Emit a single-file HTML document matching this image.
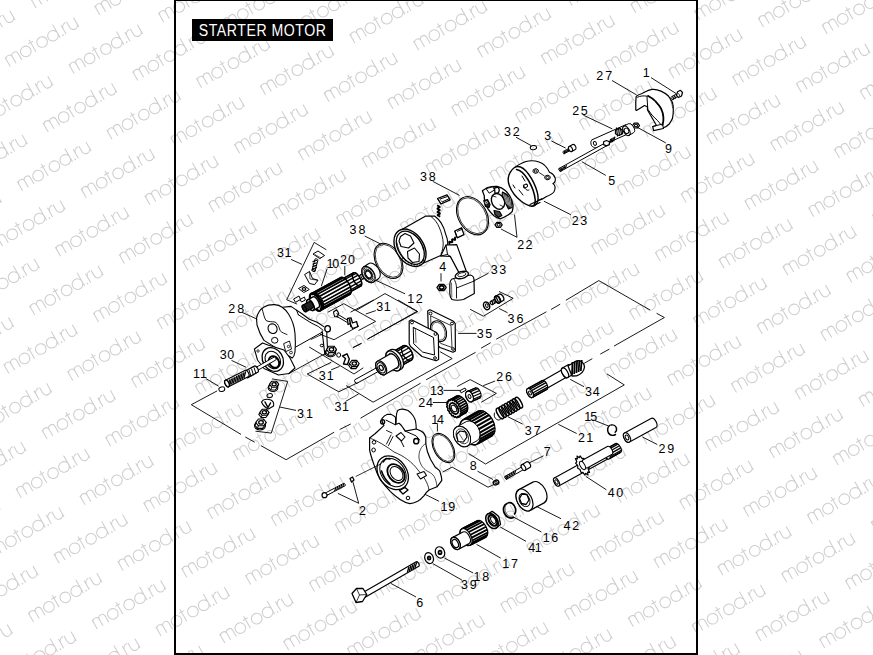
<!DOCTYPE html>
<html><head><meta charset="utf-8"><style>
html,body{margin:0;padding:0;background:#fff;}
svg{display:block;}
text{font-family:"Liberation Sans",sans-serif;}
</style></head><body>
<svg width="873" height="655" viewBox="0 0 873 655">
<rect width="873" height="655" fill="#fff"/>
<defs><g id="wmg"><path d="M0,0 L0,-10.4 M0,-7.15 A3.25,3.25 0 0 1 6.5,-7.15 L6.5,0 M6.5,-7.15 A3.25,3.25 0 0 1 13,-7.15 L13,0 M15.3,-5.2 A5.2,5.2 0 1 0 25.7,-5.2 A5.2,5.2 0 1 0 15.3,-5.2 M29,-13.5 L29,0 M26.3,-10.4 L31.7,-10.4 M33.8,-5.2 A5.2,5.2 0 1 0 44.2,-5.2 A5.2,5.2 0 1 0 33.8,-5.2 M46.1,-5.2 A5.2,5.2 0 1 0 56.5,-5.2 A5.2,5.2 0 1 0 46.1,-5.2 M56.5,-15 L56.5,0 M63.3,0 L63.3,-10.4 M63.3,-5.8 A5,5 0 0 1 68.3,-10.4 M69.6,-10.4 L69.6,-4 A4,4 0 0 0 77.6,-4 L77.6,-10.4 M77.6,-4 L77.6,0" fill="none" stroke="#cfcfcf" stroke-width="1.05"/><circle cx="60.0" cy="-0.7" r="0.85" fill="#cfcfcf"/></g></defs>
<g><use href="#wmg" transform="translate(-27.7 0.9) rotate(-30) scale(1.02)"/><use href="#wmg" transform="translate(-53.5 59.5) rotate(-30) scale(1.02)"/><use href="#wmg" transform="translate(-79.3 118.0) rotate(-30) scale(1.02)"/><use href="#wmg" transform="translate(36.1 7.9) rotate(-30) scale(1.02)"/><use href="#wmg" transform="translate(10.3 66.5) rotate(-30) scale(1.02)"/><use href="#wmg" transform="translate(-15.5 125.1) rotate(-30) scale(1.02)"/><use href="#wmg" transform="translate(-41.2 183.7) rotate(-30) scale(1.02)"/><use href="#wmg" transform="translate(-67.0 242.2) rotate(-30) scale(1.02)"/><use href="#wmg" transform="translate(99.9 15.0) rotate(-30) scale(1.02)"/><use href="#wmg" transform="translate(74.1 73.5) rotate(-30) scale(1.02)"/><use href="#wmg" transform="translate(48.3 132.1) rotate(-30) scale(1.02)"/><use href="#wmg" transform="translate(22.6 190.7) rotate(-30) scale(1.02)"/><use href="#wmg" transform="translate(-3.2 249.3) rotate(-30) scale(1.02)"/><use href="#wmg" transform="translate(-29.0 307.9) rotate(-30) scale(1.02)"/><use href="#wmg" transform="translate(-54.8 366.4) rotate(-30) scale(1.02)"/><use href="#wmg" transform="translate(-80.5 425.0) rotate(-30) scale(1.02)"/><use href="#wmg" transform="translate(163.7 22.0) rotate(-30) scale(1.02)"/><use href="#wmg" transform="translate(137.9 80.6) rotate(-30) scale(1.02)"/><use href="#wmg" transform="translate(112.1 139.2) rotate(-30) scale(1.02)"/><use href="#wmg" transform="translate(86.3 197.8) rotate(-30) scale(1.02)"/><use href="#wmg" transform="translate(60.6 256.3) rotate(-30) scale(1.02)"/><use href="#wmg" transform="translate(34.8 314.9) rotate(-30) scale(1.02)"/><use href="#wmg" transform="translate(9.0 373.5) rotate(-30) scale(1.02)"/><use href="#wmg" transform="translate(-16.7 432.1) rotate(-30) scale(1.02)"/><use href="#wmg" transform="translate(-42.5 490.7) rotate(-30) scale(1.02)"/><use href="#wmg" transform="translate(-68.3 549.2) rotate(-30) scale(1.02)"/><use href="#wmg" transform="translate(227.4 29.1) rotate(-30) scale(1.02)"/><use href="#wmg" transform="translate(201.7 87.7) rotate(-30) scale(1.02)"/><use href="#wmg" transform="translate(175.9 146.2) rotate(-30) scale(1.02)"/><use href="#wmg" transform="translate(150.1 204.8) rotate(-30) scale(1.02)"/><use href="#wmg" transform="translate(124.4 263.4) rotate(-30) scale(1.02)"/><use href="#wmg" transform="translate(98.6 322.0) rotate(-30) scale(1.02)"/><use href="#wmg" transform="translate(72.8 380.5) rotate(-30) scale(1.02)"/><use href="#wmg" transform="translate(47.1 439.1) rotate(-30) scale(1.02)"/><use href="#wmg" transform="translate(21.3 497.7) rotate(-30) scale(1.02)"/><use href="#wmg" transform="translate(-4.5 556.3) rotate(-30) scale(1.02)"/><use href="#wmg" transform="translate(-30.3 614.9) rotate(-30) scale(1.02)"/><use href="#wmg" transform="translate(-56.0 673.4) rotate(-30) scale(1.02)"/><use href="#wmg" transform="translate(291.2 36.1) rotate(-30) scale(1.02)"/><use href="#wmg" transform="translate(265.5 94.7) rotate(-30) scale(1.02)"/><use href="#wmg" transform="translate(239.7 153.3) rotate(-30) scale(1.02)"/><use href="#wmg" transform="translate(213.9 211.9) rotate(-30) scale(1.02)"/><use href="#wmg" transform="translate(188.1 270.4) rotate(-30) scale(1.02)"/><use href="#wmg" transform="translate(162.4 329.0) rotate(-30) scale(1.02)"/><use href="#wmg" transform="translate(136.6 387.6) rotate(-30) scale(1.02)"/><use href="#wmg" transform="translate(110.8 446.2) rotate(-30) scale(1.02)"/><use href="#wmg" transform="translate(85.1 504.8) rotate(-30) scale(1.02)"/><use href="#wmg" transform="translate(59.3 563.3) rotate(-30) scale(1.02)"/><use href="#wmg" transform="translate(33.5 621.9) rotate(-30) scale(1.02)"/><use href="#wmg" transform="translate(7.8 680.5) rotate(-30) scale(1.02)"/><use href="#wmg" transform="translate(355.0 43.2) rotate(-30) scale(1.02)"/><use href="#wmg" transform="translate(329.2 101.8) rotate(-30) scale(1.02)"/><use href="#wmg" transform="translate(303.5 160.3) rotate(-30) scale(1.02)"/><use href="#wmg" transform="translate(277.7 218.9) rotate(-30) scale(1.02)"/><use href="#wmg" transform="translate(251.9 277.5) rotate(-30) scale(1.02)"/><use href="#wmg" transform="translate(226.2 336.1) rotate(-30) scale(1.02)"/><use href="#wmg" transform="translate(200.4 394.6) rotate(-30) scale(1.02)"/><use href="#wmg" transform="translate(174.6 453.2) rotate(-30) scale(1.02)"/><use href="#wmg" transform="translate(148.9 511.8) rotate(-30) scale(1.02)"/><use href="#wmg" transform="translate(123.1 570.4) rotate(-30) scale(1.02)"/><use href="#wmg" transform="translate(97.3 629.0) rotate(-30) scale(1.02)"/><use href="#wmg" transform="translate(71.6 687.5) rotate(-30) scale(1.02)"/><use href="#wmg" transform="translate(444.6 -8.4) rotate(-30) scale(1.02)"/><use href="#wmg" transform="translate(418.8 50.2) rotate(-30) scale(1.02)"/><use href="#wmg" transform="translate(393.0 108.8) rotate(-30) scale(1.02)"/><use href="#wmg" transform="translate(367.3 167.4) rotate(-30) scale(1.02)"/><use href="#wmg" transform="translate(341.5 226.0) rotate(-30) scale(1.02)"/><use href="#wmg" transform="translate(315.7 284.5) rotate(-30) scale(1.02)"/><use href="#wmg" transform="translate(290.0 343.1) rotate(-30) scale(1.02)"/><use href="#wmg" transform="translate(264.2 401.7) rotate(-30) scale(1.02)"/><use href="#wmg" transform="translate(238.4 460.3) rotate(-30) scale(1.02)"/><use href="#wmg" transform="translate(212.7 518.9) rotate(-30) scale(1.02)"/><use href="#wmg" transform="translate(186.9 577.4) rotate(-30) scale(1.02)"/><use href="#wmg" transform="translate(161.1 636.0) rotate(-30) scale(1.02)"/><use href="#wmg" transform="translate(135.3 694.6) rotate(-30) scale(1.02)"/><use href="#wmg" transform="translate(508.4 -1.3) rotate(-30) scale(1.02)"/><use href="#wmg" transform="translate(482.6 57.3) rotate(-30) scale(1.02)"/><use href="#wmg" transform="translate(456.8 115.8) rotate(-30) scale(1.02)"/><use href="#wmg" transform="translate(431.1 174.4) rotate(-30) scale(1.02)"/><use href="#wmg" transform="translate(405.3 233.0) rotate(-30) scale(1.02)"/><use href="#wmg" transform="translate(379.5 291.6) rotate(-30) scale(1.02)"/><use href="#wmg" transform="translate(353.8 350.2) rotate(-30) scale(1.02)"/><use href="#wmg" transform="translate(328.0 408.8) rotate(-30) scale(1.02)"/><use href="#wmg" transform="translate(302.2 467.3) rotate(-30) scale(1.02)"/><use href="#wmg" transform="translate(276.4 525.9) rotate(-30) scale(1.02)"/><use href="#wmg" transform="translate(250.7 584.5) rotate(-30) scale(1.02)"/><use href="#wmg" transform="translate(224.9 643.1) rotate(-30) scale(1.02)"/><use href="#wmg" transform="translate(199.1 701.6) rotate(-30) scale(1.02)"/><use href="#wmg" transform="translate(572.2 5.7) rotate(-30) scale(1.02)"/><use href="#wmg" transform="translate(546.4 64.3) rotate(-30) scale(1.02)"/><use href="#wmg" transform="translate(520.6 122.9) rotate(-30) scale(1.02)"/><use href="#wmg" transform="translate(494.9 181.5) rotate(-30) scale(1.02)"/><use href="#wmg" transform="translate(469.1 240.1) rotate(-30) scale(1.02)"/><use href="#wmg" transform="translate(443.3 298.6) rotate(-30) scale(1.02)"/><use href="#wmg" transform="translate(417.5 357.2) rotate(-30) scale(1.02)"/><use href="#wmg" transform="translate(391.8 415.8) rotate(-30) scale(1.02)"/><use href="#wmg" transform="translate(366.0 474.4) rotate(-30) scale(1.02)"/><use href="#wmg" transform="translate(340.2 533.0) rotate(-30) scale(1.02)"/><use href="#wmg" transform="translate(314.5 591.5) rotate(-30) scale(1.02)"/><use href="#wmg" transform="translate(288.7 650.1) rotate(-30) scale(1.02)"/><use href="#wmg" transform="translate(262.9 708.7) rotate(-30) scale(1.02)"/><use href="#wmg" transform="translate(635.9 12.8) rotate(-30) scale(1.02)"/><use href="#wmg" transform="translate(610.2 71.4) rotate(-30) scale(1.02)"/><use href="#wmg" transform="translate(584.4 129.9) rotate(-30) scale(1.02)"/><use href="#wmg" transform="translate(558.6 188.5) rotate(-30) scale(1.02)"/><use href="#wmg" transform="translate(532.9 247.1) rotate(-30) scale(1.02)"/><use href="#wmg" transform="translate(507.1 305.7) rotate(-30) scale(1.02)"/><use href="#wmg" transform="translate(481.3 364.3) rotate(-30) scale(1.02)"/><use href="#wmg" transform="translate(455.6 422.8) rotate(-30) scale(1.02)"/><use href="#wmg" transform="translate(429.8 481.4) rotate(-30) scale(1.02)"/><use href="#wmg" transform="translate(404.0 540.0) rotate(-30) scale(1.02)"/><use href="#wmg" transform="translate(378.2 598.6) rotate(-30) scale(1.02)"/><use href="#wmg" transform="translate(352.5 657.2) rotate(-30) scale(1.02)"/><use href="#wmg" transform="translate(699.7 19.8) rotate(-30) scale(1.02)"/><use href="#wmg" transform="translate(674.0 78.4) rotate(-30) scale(1.02)"/><use href="#wmg" transform="translate(648.2 137.0) rotate(-30) scale(1.02)"/><use href="#wmg" transform="translate(622.4 195.6) rotate(-30) scale(1.02)"/><use href="#wmg" transform="translate(596.7 254.2) rotate(-30) scale(1.02)"/><use href="#wmg" transform="translate(570.9 312.7) rotate(-30) scale(1.02)"/><use href="#wmg" transform="translate(545.1 371.3) rotate(-30) scale(1.02)"/><use href="#wmg" transform="translate(519.3 429.9) rotate(-30) scale(1.02)"/><use href="#wmg" transform="translate(493.6 488.5) rotate(-30) scale(1.02)"/><use href="#wmg" transform="translate(467.8 547.1) rotate(-30) scale(1.02)"/><use href="#wmg" transform="translate(442.0 605.6) rotate(-30) scale(1.02)"/><use href="#wmg" transform="translate(416.3 664.2) rotate(-30) scale(1.02)"/><use href="#wmg" transform="translate(763.5 26.9) rotate(-30) scale(1.02)"/><use href="#wmg" transform="translate(737.8 85.5) rotate(-30) scale(1.02)"/><use href="#wmg" transform="translate(712.0 144.1) rotate(-30) scale(1.02)"/><use href="#wmg" transform="translate(686.2 202.6) rotate(-30) scale(1.02)"/><use href="#wmg" transform="translate(660.4 261.2) rotate(-30) scale(1.02)"/><use href="#wmg" transform="translate(634.7 319.8) rotate(-30) scale(1.02)"/><use href="#wmg" transform="translate(608.9 378.4) rotate(-30) scale(1.02)"/><use href="#wmg" transform="translate(583.1 436.9) rotate(-30) scale(1.02)"/><use href="#wmg" transform="translate(557.4 495.5) rotate(-30) scale(1.02)"/><use href="#wmg" transform="translate(531.6 554.1) rotate(-30) scale(1.02)"/><use href="#wmg" transform="translate(505.8 612.7) rotate(-30) scale(1.02)"/><use href="#wmg" transform="translate(480.1 671.3) rotate(-30) scale(1.02)"/><use href="#wmg" transform="translate(827.3 33.9) rotate(-30) scale(1.02)"/><use href="#wmg" transform="translate(801.5 92.5) rotate(-30) scale(1.02)"/><use href="#wmg" transform="translate(775.8 151.1) rotate(-30) scale(1.02)"/><use href="#wmg" transform="translate(750.0 209.7) rotate(-30) scale(1.02)"/><use href="#wmg" transform="translate(724.2 268.3) rotate(-30) scale(1.02)"/><use href="#wmg" transform="translate(698.5 326.8) rotate(-30) scale(1.02)"/><use href="#wmg" transform="translate(672.7 385.4) rotate(-30) scale(1.02)"/><use href="#wmg" transform="translate(646.9 444.0) rotate(-30) scale(1.02)"/><use href="#wmg" transform="translate(621.2 502.6) rotate(-30) scale(1.02)"/><use href="#wmg" transform="translate(595.4 561.2) rotate(-30) scale(1.02)"/><use href="#wmg" transform="translate(569.6 619.7) rotate(-30) scale(1.02)"/><use href="#wmg" transform="translate(543.8 678.3) rotate(-30) scale(1.02)"/><use href="#wmg" transform="translate(865.3 99.6) rotate(-30) scale(1.02)"/><use href="#wmg" transform="translate(839.6 158.1) rotate(-30) scale(1.02)"/><use href="#wmg" transform="translate(813.8 216.7) rotate(-30) scale(1.02)"/><use href="#wmg" transform="translate(788.0 275.3) rotate(-30) scale(1.02)"/><use href="#wmg" transform="translate(762.3 333.9) rotate(-30) scale(1.02)"/><use href="#wmg" transform="translate(736.5 392.5) rotate(-30) scale(1.02)"/><use href="#wmg" transform="translate(710.7 451.0) rotate(-30) scale(1.02)"/><use href="#wmg" transform="translate(684.9 509.6) rotate(-30) scale(1.02)"/><use href="#wmg" transform="translate(659.2 568.2) rotate(-30) scale(1.02)"/><use href="#wmg" transform="translate(633.4 626.8) rotate(-30) scale(1.02)"/><use href="#wmg" transform="translate(607.6 685.4) rotate(-30) scale(1.02)"/><use href="#wmg" transform="translate(877.6 223.8) rotate(-30) scale(1.02)"/><use href="#wmg" transform="translate(851.8 282.4) rotate(-30) scale(1.02)"/><use href="#wmg" transform="translate(826.0 340.9) rotate(-30) scale(1.02)"/><use href="#wmg" transform="translate(800.3 399.5) rotate(-30) scale(1.02)"/><use href="#wmg" transform="translate(774.5 458.1) rotate(-30) scale(1.02)"/><use href="#wmg" transform="translate(748.7 516.7) rotate(-30) scale(1.02)"/><use href="#wmg" transform="translate(723.0 575.3) rotate(-30) scale(1.02)"/><use href="#wmg" transform="translate(697.2 633.8) rotate(-30) scale(1.02)"/><use href="#wmg" transform="translate(671.4 692.4) rotate(-30) scale(1.02)"/><use href="#wmg" transform="translate(864.1 406.6) rotate(-30) scale(1.02)"/><use href="#wmg" transform="translate(838.3 465.1) rotate(-30) scale(1.02)"/><use href="#wmg" transform="translate(812.5 523.7) rotate(-30) scale(1.02)"/><use href="#wmg" transform="translate(786.8 582.3) rotate(-30) scale(1.02)"/><use href="#wmg" transform="translate(761.0 640.9) rotate(-30) scale(1.02)"/><use href="#wmg" transform="translate(735.2 699.5) rotate(-30) scale(1.02)"/><use href="#wmg" transform="translate(876.3 530.8) rotate(-30) scale(1.02)"/><use href="#wmg" transform="translate(850.6 589.4) rotate(-30) scale(1.02)"/><use href="#wmg" transform="translate(824.8 647.9) rotate(-30) scale(1.02)"/><use href="#wmg" transform="translate(799.0 706.5) rotate(-30) scale(1.02)"/><use href="#wmg" transform="translate(862.8 713.6) rotate(-30) scale(1.02)"/></g>
<rect x="175" y="0" width="522" height="654" fill="none" stroke="#000" stroke-width="2"/>
<rect x="192" y="19" width="141" height="22" fill="#000"/>
<text transform="translate(198.8 36.0) scale(0.905 1)" x="0" y="0" font-size="15.6" fill="#fff" letter-spacing="0.6">STARTER MOTOR</text>
<g id="parts1">
<path d="M672.8,99.5 L677.8,96.6 A1.5,0.8 59.9 0 0 676.2,94.0 L671.2,96.9 A1.5,0.8 59.9 0 0 672.8,99.5 Z" stroke="#000" stroke-width="0.9" fill="#fff" stroke-linejoin="round" stroke-linecap="round"/>
<line x1="672.6" y1="96.3" x2="673.8" y2="99.4" stroke="#000" stroke-width="1.3" />
<line x1="674.4" y1="95.3" x2="675.6" y2="98.4" stroke="#000" stroke-width="1.3" />
<path d="M676.5,95.5 L677.5,91.8 L680.5,90.3 L682.5,92.5 L681.5,96 L678.5,97.5 Z" stroke="#000" stroke-width="1.2" fill="#fff" stroke-linejoin="round" stroke-linecap="round"/>
<line x1="678.5" y1="93.2" x2="680.0" y2="96.5" stroke="#000" stroke-width="0.8" />
<path d="M636.2,96.4 C638,95 640,94.2 642,93.5 C645,92 648.5,90 651.9,89.4 C655,89 658,89.8 661,91.1 C664,92.5 666.5,94 668.4,96 C670,98 671.5,100.5 672.5,102.6 C673.2,105 673.5,107.5 673.3,110 C673.3,113 673,116 672.5,118.3 C671.5,120.5 670.5,122.5 669.2,124 C667.5,125.8 665.5,127 663.4,127.8 L663.4,128.5 L653.6,130.6 L652.7,126.5 L656.5,125.5 L647.5,110 L647.4,106.7 L644.5,105.5 L636.5,110.4 L635.8,110 C635.6,105 635.7,100 636.2,96.4 Z" stroke="#000" stroke-width="1.2" fill="#fff" stroke-linejoin="round" stroke-linecap="round"/>
<path d="M637.5,97.2 C640,96 643.5,95.5 647,96.2 L648.2,96" stroke="#000" stroke-width="1.0" fill="none" stroke-linejoin="round" stroke-linecap="round"/>
<path d="M648.2,96 C651,97.5 653.5,99 655.2,101 C657.5,103.5 659.5,105.5 661,108.4 C662.5,111.5 663.2,114.5 663.4,117.4 C663.6,120 663.2,122.5 662.6,124.9" stroke="#000" stroke-width="1.8" fill="none" stroke-linejoin="round" stroke-linecap="round"/>
<path d="M647,96.8 C647.3,101 647.5,105 647.8,109.2 C649,111 650.5,113 651.9,115 C654,117 655.8,119 657.7,120.7 C659,122 660,123.5 661,124.9" stroke="#000" stroke-width="1.0" fill="none" stroke-linejoin="round" stroke-linecap="round"/>
<path d="M652.7,126.5 L662.6,124 L663.4,128.2" stroke="#000" stroke-width="1.0" fill="none" stroke-linejoin="round" stroke-linecap="round"/>
<path d="M668.4,96 C670.5,99 672,103 672.7,108" stroke="#000" stroke-width="0.6" fill="none" stroke-linejoin="round" stroke-linecap="round"/>
<path d="M639.5,125.6 L637.8,128.0 L634.2,128.0 L632.5,125.6 L634.2,123.2 L637.8,123.2 Z" stroke="#000" stroke-width="1.2" fill="#fff" stroke-linejoin="round"/>
<ellipse cx="636.0" cy="125.6" rx="1.6" ry="1.3" transform="rotate(0 636.0 125.6)" stroke="#000" stroke-width="1.08" fill="none"/>
<path d="M592.2,139.7 L626,124.6 L630,133 L598,147.2 C594.5,148.6 591.5,146.8 591,144.2 C590.6,142 591,140.4 592.2,139.7 Z" stroke="#000" stroke-width="1.0" fill="#fff" stroke-linejoin="round" stroke-linecap="round"/>
<ellipse cx="594.9" cy="143.4" rx="1.5" ry="2.0" transform="rotate(-20 594.9 143.4)" stroke="#000" stroke-width="1.0" fill="none"/>
<path d="M622.6,130.3 L622.6,133.7 L619.0,135.4 L615.4,133.7 L615.4,130.3 L619.0,128.6 Z" stroke="#000" stroke-width="1.1" fill="#fff" stroke-linejoin="round"/>
<line x1="616.5" y1="127.5" x2="617.5" y2="136.5" stroke="#000" stroke-width="1.2" />
<line x1="618.5" y1="127.7" x2="619.5" y2="135.7" stroke="#000" stroke-width="1.2" />
<line x1="620.5" y1="127.9" x2="621.5" y2="134.9" stroke="#000" stroke-width="1.2" />
<path d="M629.1,135.3 L633.6,132.7 A5.2,2.9 60.0 0 0 628.4,123.7 L623.9,126.3 A5.2,2.9 60.0 0 0 629.1,135.3 Z" stroke="#000" stroke-width="1.0" fill="#fff" stroke-linejoin="round" stroke-linecap="round"/>
<ellipse cx="626.5" cy="130.8" rx="5.2" ry="2.9" transform="rotate(59.9816325723907 626.5 130.8)" stroke="#000" stroke-width="1.0" fill="#fff"/>
<ellipse cx="626.5" cy="130.8" rx="2.2" ry="2.8" transform="rotate(-30 626.5 130.8)" stroke="#000" stroke-width="1.0" fill="none"/>
<path d="M560.8,171.2 L606.8,145.7 A1.6,0.8 61.0 0 0 605.2,142.9 L559.2,168.4 A1.6,0.8 61.0 0 0 560.8,171.2 Z" stroke="#000" stroke-width="1.0" fill="#fff" stroke-linejoin="round" stroke-linecap="round"/>
<ellipse cx="560.0" cy="169.8" rx="1.6" ry="0.8" transform="rotate(60.99830057611189 560.0 169.8)" stroke="#000" stroke-width="1.0" fill="#fff"/>
<line x1="562.0" y1="167.6" x2="560.8" y2="171.0" stroke="#000" stroke-width="1.1" />
<line x1="563.5" y1="166.8" x2="562.3" y2="170.2" stroke="#000" stroke-width="1.1" />
<line x1="565.0" y1="166.0" x2="563.8" y2="169.3" stroke="#000" stroke-width="1.1" />
<line x1="566.5" y1="165.1" x2="565.3" y2="168.5" stroke="#000" stroke-width="1.1" />
<path d="M609.4,141.8 L609.4,144.6 L606.5,145.9 L603.6,144.6 L603.6,141.8 L606.5,140.5 Z" stroke="#000" stroke-width="1.2" fill="#fff" stroke-linejoin="round"/>
<line x1="610.7" y1="138.9" x2="609.4" y2="143.7" stroke="#000" stroke-width="1.3" />
<line x1="612.1" y1="138.1" x2="610.8" y2="142.9" stroke="#000" stroke-width="1.3" />
<line x1="613.5" y1="137.4" x2="612.2" y2="142.2" stroke="#000" stroke-width="1.3" />
<line x1="614.9" y1="136.6" x2="613.6" y2="141.4" stroke="#000" stroke-width="1.3" />
<ellipse cx="533.4" cy="147.6" rx="3.2" ry="2.1" transform="rotate(-10 533.4 147.6)" stroke="#000" stroke-width="1" fill="none"/>
<path d="M564.2,153.7 L570.6,150.3 A1.3,0.7 62.0 0 0 569.4,148.1 L563.0,151.5 A1.3,0.7 62.0 0 0 564.2,153.7 Z" stroke="#000" stroke-width="0.9" fill="#fff" stroke-linejoin="round" stroke-linecap="round"/>
<line x1="564.9" y1="151.0" x2="563.9" y2="153.8" stroke="#000" stroke-width="1.2" />
<line x1="566.3" y1="150.2" x2="565.3" y2="153.0" stroke="#000" stroke-width="1.2" />
<line x1="567.7" y1="149.5" x2="566.7" y2="152.3" stroke="#000" stroke-width="1.2" />
<line x1="569.1" y1="148.7" x2="568.1" y2="151.5" stroke="#000" stroke-width="1.2" />
<path d="M571.8,151.4 L575.3,149.5 A2.8,1.7 61.5 0 0 572.7,144.5 L569.2,146.4 A2.8,1.7 61.5 0 0 571.8,151.4 Z" stroke="#000" stroke-width="1.1" fill="#fff" stroke-linejoin="round" stroke-linecap="round"/>
<ellipse cx="570.5" cy="148.9" rx="2.8" ry="1.7" transform="rotate(61.504361381754954 570.5 148.9)" stroke="#000" stroke-width="1.1" fill="#fff"/>
</g>
<g id="parts2">
<path d="M514.5,167.6 C517,165.5 521,163.5 526,161.5 C530,160.3 535,160.6 539.1,161.9 C543,163.2 547,166.5 549.5,172.2 C551.5,173.2 554,174 555.2,178 C555.8,181 554.5,182.8 552.9,183.6 C555,185 555.8,188 554,191.7 C552.5,194 549,195.5 546.5,196.5 C544,198.5 541,199.9 538,200.2 L530,206 Z" stroke="#000" stroke-width="1.1" fill="#fff" stroke-linejoin="round" stroke-linecap="round"/>
<path d="M508.8,175.6 C510.5,171 512.5,168 516,166.8 C519.5,165.8 524.5,168.5 528.8,174.5 C532.5,179.5 535.5,186 537.2,192 C538.8,198 538.5,203 534.6,205.6 C531.5,207 527,205.5 521.5,201.5 C516,197.3 511.5,191.5 509.3,185.5 C507.9,181.8 507.9,178.5 508.8,175.6 Z" stroke="#000" stroke-width="1.4" fill="#fff" stroke-linejoin="round" stroke-linecap="round"/>
<path d="M516.5,169.5 C520.5,170 525,174.5 528.5,180.5 C532,186.5 534.5,193 535.2,199.5 C535.5,202 535,204 534.2,205" stroke="#000" stroke-width="1.5" fill="none" stroke-linejoin="round" stroke-linecap="round"/>
<path d="M522,176 L525,181 M523.5,185 C525,189.5 527,191 529,190 M519,190 L523,195 M513,185 L515,188" stroke="#000" stroke-width="1.0" fill="none" stroke-linejoin="round" stroke-linecap="round"/>
<ellipse cx="525.5" cy="186.0" rx="2.2" ry="1.6" transform="rotate(-30 525.5 186.0)" stroke="#000" stroke-width="1.1" fill="none"/>
<path d="M538.5,170.2 L538.0,172.5 L535.2,173.4 L532.9,171.8 L533.4,169.5 L536.2,168.6 Z" stroke="#000" stroke-width="1.0" fill="#fff" stroke-linejoin="round"/>
<ellipse cx="535.7" cy="171.0" rx="1.4" ry="1.1" transform="rotate(0 535.7 171.0)" stroke="#000" stroke-width="0.9" fill="none"/>
<path d="M550.3,176.7 L549.8,179.0 L547.0,179.9 L544.7,178.3 L545.2,176.0 L548.0,175.1 Z" stroke="#000" stroke-width="1.0" fill="#fff" stroke-linejoin="round"/>
<ellipse cx="547.5" cy="177.5" rx="1.4" ry="1.1" transform="rotate(0 547.5 177.5)" stroke="#000" stroke-width="0.9" fill="none"/>
<line x1="539.0" y1="172.5" x2="544.5" y2="176.0" stroke="#000" stroke-width="0.8" />
<path d="M530,204.5 L538.5,200.5 L541.5,199 M531.5,206.5 L540,202.5" stroke="#000" stroke-width="1.2" fill="none" stroke-linejoin="round" stroke-linecap="round"/>
<path d="M482.4,190.7 L487.5,187.5 C491,186.5 494,186.2 497,186.3 C500,187 503,188.5 505,190.3 C507,192 508.5,194 509.7,195.9 C511.5,199 512.5,202 512.9,204.6 C513.2,207 512.9,209.5 512.1,211.7 C511,213 509.5,214 508.2,214.9 C505.5,216.5 503,218 500.2,218.9 C497.5,218 495.5,217 493.9,215.7 C491.5,213.5 489.7,211.5 488.3,209.4 C486.8,207 485.8,205 485.1,203 C484.5,200.5 484.2,198 484.3,195.9 Z" stroke="#000" stroke-width="1.3" fill="#fff" stroke-linejoin="round" stroke-linecap="round"/>
<path d="M502.5,192 L507,194.5 L511,201 L512,207.5 L508.5,209 L505.5,203 L502,197.5 Z" stroke="#000" stroke-width="1.2" fill="#333" stroke-linejoin="round" stroke-linecap="round"/>
<line x1="503.0" y1="193.5" x2="506.5" y2="204.0" stroke="#fff" stroke-width="0.5" />
<line x1="504.8" y1="194.7" x2="507.7" y2="204.8" stroke="#fff" stroke-width="0.5" />
<line x1="506.6" y1="195.9" x2="508.9" y2="205.6" stroke="#fff" stroke-width="0.5" />
<line x1="508.4" y1="197.1" x2="510.1" y2="206.4" stroke="#fff" stroke-width="0.5" />
<line x1="510.2" y1="198.3" x2="511.3" y2="207.2" stroke="#fff" stroke-width="0.5" />
<path d="M483.8,200.5 L487.5,199.5 L490,204.5 L489,207.5 L485.5,206.5 Z" stroke="#000" stroke-width="1.2" fill="#222" stroke-linejoin="round" stroke-linecap="round"/>
<ellipse cx="486.3" cy="202.6" rx="1.1" ry="1.0" transform="rotate(0 486.3 202.6)" stroke="#fff" stroke-width="0.8" fill="none"/>
<path d="M494,210.5 L499.5,211.5 L501.8,215.5 L498.5,217.5 L495,214.5 Z" stroke="#000" stroke-width="1.2" fill="#444" stroke-linejoin="round" stroke-linecap="round"/>
<path d="M486.5,188.5 L493,186.8 L494.5,190 L489.5,193 Z" stroke="#000" stroke-width="1.0" fill="#fff" stroke-linejoin="round" stroke-linecap="round"/>
<path d="M494.5,188 L498,187.2 C499.5,189 499.5,191 498.5,192.5 L495,193.5 Z" stroke="#000" stroke-width="1.3" fill="#fff" stroke-linejoin="round" stroke-linecap="round"/>
<ellipse cx="498.0" cy="201.4" rx="6.2" ry="8.2" transform="rotate(-28 498.0 201.4)" stroke="#000" stroke-width="1.4" fill="#fff"/>
<path d="M493,196 L496,197 M500,205 L503,206.5" stroke="#000" stroke-width="0.8" fill="none" stroke-linejoin="round" stroke-linecap="round"/>
<path d="M502.2,224.8 L500.4,227.3 L496.8,227.3 L495.0,224.8 L496.8,222.3 L500.4,222.3 Z" stroke="#000" stroke-width="1.2" fill="#fff" stroke-linejoin="round"/>
<ellipse cx="498.6" cy="224.8" rx="1.6" ry="1.4" transform="rotate(0 498.6 224.8)" stroke="#000" stroke-width="1.08" fill="none"/>
<ellipse cx="472.5" cy="215.7" rx="20.5" ry="14.2" transform="rotate(60 472.5 215.7)" stroke="#000" stroke-width="1.1" fill="none"/>
<ellipse cx="472.5" cy="215.7" rx="19.3" ry="13.0" transform="rotate(60 472.5 215.7)" stroke="#000" stroke-width="0.7" fill="none"/>
<ellipse cx="388.5" cy="260.9" rx="18.9" ry="12.6" transform="rotate(60 388.5 260.9)" stroke="#000" stroke-width="1.1" fill="none"/>
<ellipse cx="388.5" cy="260.9" rx="17.7" ry="11.4" transform="rotate(60 388.5 260.9)" stroke="#000" stroke-width="0.7" fill="none"/>
</g>
<g id="parts3">
<path d="M402.8,229.1 L425.3,216.2 L434.9,216.2 C437.5,218 439.5,220.5 441.3,223.2 C443.3,226.5 444.8,230 445.6,233.9 C446.8,237 447.6,240 447.8,242.4 C447.8,245.5 447,248.5 445.6,251 C444.2,253 442.8,254.5 441.3,255.3 L416.7,266 Z" stroke="#000" stroke-width="1.2" fill="#fff" stroke-linejoin="round" stroke-linecap="round"/>
<path d="M431,216.5 C434.5,219 437.5,223 439.5,228 C441.5,233 443,238 443.2,243 C443.3,247 442.5,251 441,254" stroke="#000" stroke-width="0.9" fill="none" stroke-linejoin="round" stroke-linecap="round"/>
<ellipse cx="410.0" cy="247.8" rx="20.4" ry="13.8" transform="rotate(57 410.0 247.8)" stroke="#000" stroke-width="1.4" fill="#fff"/>
<ellipse cx="410.3" cy="247.8" rx="18.2" ry="11.8" transform="rotate(57 410.3 247.8)" stroke="#000" stroke-width="1.3" fill="#fff"/>
<line x1="423.7" y1="260.6" x2="422.7" y2="259.7" stroke="#000" stroke-width="1.2" />
<line x1="422.1" y1="262.9" x2="421.2" y2="261.7" stroke="#000" stroke-width="1.2" />
<line x1="419.9" y1="264.4" x2="419.3" y2="263.1" stroke="#000" stroke-width="1.2" />
<line x1="417.3" y1="265.3" x2="417.0" y2="263.9" stroke="#000" stroke-width="1.2" />
<line x1="414.4" y1="265.4" x2="414.4" y2="263.9" stroke="#000" stroke-width="1.2" />
<line x1="411.3" y1="264.7" x2="411.6" y2="263.2" stroke="#000" stroke-width="1.2" />
<line x1="408.2" y1="263.3" x2="408.7" y2="261.9" stroke="#000" stroke-width="1.2" />
<line x1="405.1" y1="261.2" x2="406.0" y2="259.9" stroke="#000" stroke-width="1.2" />
<line x1="402.3" y1="258.5" x2="403.4" y2="257.4" stroke="#000" stroke-width="1.2" />
<path d="M400.5,236.5 L405.0,233.5 L410.5,236.0 L414.0,243.0 L408.5,248.0 L401.0,246.5 L399.0,241.0 Z" stroke="#000" stroke-width="1.1" fill="none" stroke-linejoin="round"/>
<path d="M407.5,251.5 L414.5,248.0 L419.5,254.0 L419.0,261.5 L412.5,262.5 L408.0,258.0 Z" stroke="#000" stroke-width="1.1" fill="none" stroke-linejoin="round"/>
<path d="M397,243 C398,250 402,257 408,262 M414.5,234 C419,238 422,244 423.5,250" stroke="#000" stroke-width="0.8" fill="none" stroke-linejoin="round" stroke-linecap="round"/>
<path d="M437.5,198.5 L447,194.8 L450.2,199.8 L441,204 Z" stroke="#000" stroke-width="1.3" fill="#fff" stroke-linejoin="round" stroke-linecap="round"/>
<line x1="440.0" y1="199.0" x2="447.5" y2="196.5" stroke="#000" stroke-width="1.0" />
<line x1="442.0" y1="202.0" x2="449.0" y2="198.8" stroke="#000" stroke-width="1.0" />
<line x1="437.5" y1="198.5" x2="441.0" y2="204.0" stroke="#000" stroke-width="1.0" />
<line x1="439.0" y1="197.5" x2="442.5" y2="202.8" stroke="#000" stroke-width="0.5" />
<path d="M437.1,205.6 L440.0,207.2 L437.2,208.9 L440.0,210.5 L437.3,212.2 L440.1,213.8 L437.4,215.5 L440.2,217.0" stroke="#000" stroke-width="1.4" fill="none" stroke-linejoin="round"/>
<path d="M437.1,204.9 L439.9,206.4 L437.2,208.2 L440.0,209.7 L437.3,211.4 L440.1,213.0 L437.4,214.7 L440.2,216.3" stroke="#000" stroke-width="1.1199999999999999" fill="none" stroke-linejoin="round"/>
<path d="M454.8,231 L461.5,227.8 L464,234.6 L457.2,237.8 Z" stroke="#000" stroke-width="1.3" fill="#fff" stroke-linejoin="round" stroke-linecap="round"/>
<line x1="457.0" y1="231.5" x2="462.5" y2="229.0" stroke="#000" stroke-width="0.9" />
<line x1="454.8" y1="231.0" x2="457.2" y2="237.8" stroke="#000" stroke-width="1.0" />
<path d="M449.8,244.6 L449.5,241.4 L452.6,242.2 L452.3,239.0 L455.4,239.8 L455.1,236.6" stroke="#000" stroke-width="1.4" fill="none" stroke-linejoin="round"/>
<path d="M449.2,245.1 L448.9,241.9 L452.0,242.7 L451.7,239.5 L454.8,240.3 L454.5,237.1" stroke="#000" stroke-width="1.1199999999999999" fill="none" stroke-linejoin="round"/>
<path d="M440.7,256 L446,245 L456.7,244.6 L466.3,271.3 L458.8,272.4 L450.3,256.4 Z" stroke="#000" stroke-width="1.2" fill="#fff" stroke-linejoin="round" stroke-linecap="round"/>
<path d="M446,245 L447.5,254.5 L450.3,256.4 M447.5,254.5 L440.7,256" stroke="#000" stroke-width="1.0" fill="none" stroke-linejoin="round" stroke-linecap="round"/>
<path d="M449.8,285 C449.8,281 451,279 453.5,278.5 L470.5,275 C472.5,275.5 473.8,277 474,279.5 L474.3,293.5 L463.5,299.5 C459,300.5 455,300.5 452,299.5 C450.5,298 449.8,296 449.8,293.5 Z" stroke="#000" stroke-width="1.2" fill="#fff" stroke-linejoin="round" stroke-linecap="round"/>
<path d="M453.5,278.5 C455.5,281 456.5,284.5 456.5,288 L456.5,298 M456.5,288 L474.2,281" stroke="#000" stroke-width="0.9" fill="none" stroke-linejoin="round" stroke-linecap="round"/>
<path d="M451.5,283 L451.8,297" stroke="#000" stroke-width="0.6" fill="none" stroke-linejoin="round" stroke-linecap="round"/>
<ellipse cx="461.8" cy="275.0" rx="6.8" ry="3.4" transform="rotate(-15 461.8 275.0)" stroke="#000" stroke-width="1.3" fill="#fff"/>
<ellipse cx="461.8" cy="274.6" rx="4.2" ry="1.8" transform="rotate(-15 461.8 274.6)" stroke="#000" stroke-width="0.8" fill="none"/>
<path d="M446.2,287.5 L443.9,290.7 L439.3,290.7 L437.0,287.5 L439.3,284.3 L443.9,284.3 Z" stroke="#000" stroke-width="1.3" fill="#fff" stroke-linejoin="round"/>
<ellipse cx="441.6" cy="287.5" rx="2.1" ry="1.7" transform="rotate(0 441.6 287.5)" stroke="#000" stroke-width="1.1700000000000002" fill="none"/>
<ellipse cx="441.6" cy="287.5" rx="2.2" ry="2.0" transform="rotate(0 441.6 287.5)" stroke="#000" stroke-width="1.5" fill="none"/>
</g>
<g id="parts4">
<path d="M361.1,274.5 L355.0,277.9 A2.4,1.1 -118.7 0 0 357.3,282.1 L363.4,278.8 A2.4,1.1 -118.7 0 0 361.1,274.5 Z" stroke="#000" stroke-width="1.0" fill="#fff" stroke-linejoin="round" stroke-linecap="round"/>
<ellipse cx="362.3" cy="276.7" rx="2.4" ry="1.1" transform="rotate(-118.74303563664034 362.3 276.7)" stroke="#000" stroke-width="1.0" fill="#fff"/>
<path d="M353.4,272.9 L341.1,279.6 A7.6,3.4 -118.7 0 0 348.4,292.9 L360.7,286.2 A7.6,3.4 -118.7 0 0 353.4,272.9 Z" stroke="#000" stroke-width="1.4" fill="#fff" stroke-linejoin="round" stroke-linecap="round"/>
<ellipse cx="357.0" cy="279.5" rx="7.6" ry="3.4" transform="rotate(-118.74303563664076 357.0 279.5)" stroke="#000" stroke-width="1.4" fill="#fff"/>
<line x1="349.0" y1="292.4" x2="361.3" y2="285.7" stroke="#000" stroke-width="1.4" />
<line x1="349.5" y1="290.5" x2="361.7" y2="283.7" stroke="#000" stroke-width="1.4" />
<line x1="349.0" y1="287.7" x2="361.3" y2="280.9" stroke="#000" stroke-width="1.4" />
<line x1="347.7" y1="284.6" x2="360.0" y2="277.9" stroke="#000" stroke-width="1.4" />
<line x1="345.9" y1="281.9" x2="358.1" y2="275.2" stroke="#000" stroke-width="1.4" />
<line x1="343.8" y1="280.0" x2="356.0" y2="273.3" stroke="#000" stroke-width="1.4" />
<line x1="341.8" y1="279.4" x2="354.1" y2="272.7" stroke="#000" stroke-width="1.4" />
<path d="M320.4,310.6 L350.2,294.2 A9.6,4.3 61.3 0 0 341.0,277.4 L311.2,293.7 A9.6,4.3 61.3 0 0 320.4,310.6 Z" stroke="#000" stroke-width="1.5" fill="#fff" stroke-linejoin="round" stroke-linecap="round"/>
<line x1="321.0" y1="310.1" x2="350.8" y2="293.7" stroke="#000" stroke-width="1.6" />
<line x1="321.7" y1="308.4" x2="351.5" y2="292.0" stroke="#000" stroke-width="1.6" />
<line x1="321.7" y1="306.0" x2="351.5" y2="289.6" stroke="#000" stroke-width="1.6" />
<line x1="320.9" y1="303.1" x2="350.8" y2="286.7" stroke="#000" stroke-width="1.6" />
<line x1="319.6" y1="300.1" x2="349.4" y2="283.7" stroke="#000" stroke-width="1.6" />
<line x1="317.8" y1="297.3" x2="347.6" y2="281.0" stroke="#000" stroke-width="1.6" />
<line x1="315.7" y1="295.1" x2="345.6" y2="278.8" stroke="#000" stroke-width="1.6" />
<line x1="313.7" y1="293.8" x2="343.5" y2="277.5" stroke="#000" stroke-width="1.6" />
<line x1="311.9" y1="293.5" x2="341.7" y2="277.1" stroke="#000" stroke-width="1.6" />
<line x1="320.7" y1="309.6" x2="350.5" y2="293.2" stroke="#000" stroke-width="0.6" />
<line x1="321.3" y1="308.0" x2="351.1" y2="291.7" stroke="#000" stroke-width="0.6" />
<line x1="321.3" y1="305.7" x2="351.1" y2="289.4" stroke="#000" stroke-width="0.6" />
<line x1="320.6" y1="303.0" x2="350.4" y2="286.7" stroke="#000" stroke-width="0.6" />
<line x1="319.4" y1="300.2" x2="349.2" y2="283.8" stroke="#000" stroke-width="0.6" />
<line x1="317.7" y1="297.6" x2="347.5" y2="281.3" stroke="#000" stroke-width="0.6" />
<line x1="315.7" y1="295.6" x2="345.6" y2="279.2" stroke="#000" stroke-width="0.6" />
<line x1="313.8" y1="294.3" x2="343.6" y2="278.0" stroke="#000" stroke-width="0.6" />
<line x1="312.2" y1="294.0" x2="342.0" y2="277.7" stroke="#000" stroke-width="0.6" />
<ellipse cx="315.8" cy="302.1" rx="9.6" ry="4.3" transform="rotate(61.25696436335935 315.8 302.1)" stroke="#000" stroke-width="2.2" fill="none"/>
<line x1="320.0" y1="309.3" x2="323.5" y2="307.4" stroke="#000" stroke-width="1.8" />
<line x1="320.6" y1="307.6" x2="324.1" y2="305.6" stroke="#000" stroke-width="1.8" />
<line x1="320.4" y1="305.0" x2="323.9" y2="303.1" stroke="#000" stroke-width="1.8" />
<line x1="319.5" y1="302.0" x2="323.0" y2="300.1" stroke="#000" stroke-width="1.8" />
<line x1="317.9" y1="299.1" x2="321.4" y2="297.2" stroke="#000" stroke-width="1.8" />
<line x1="315.9" y1="296.7" x2="319.4" y2="294.8" stroke="#000" stroke-width="1.8" />
<line x1="313.8" y1="295.2" x2="317.3" y2="293.2" stroke="#000" stroke-width="1.8" />
<line x1="312.0" y1="294.7" x2="315.5" y2="292.8" stroke="#000" stroke-width="1.8" />
<path d="M313.4,310.3 L318.7,307.4 A6.0,2.7 61.3 0 0 312.9,296.9 L307.7,299.8 A6.0,2.7 61.3 0 0 313.4,310.3 Z" stroke="#000" stroke-width="1.5" fill="#fff" stroke-linejoin="round" stroke-linecap="round"/>
<ellipse cx="310.5" cy="305.0" rx="6.0" ry="2.7" transform="rotate(61.25696436335963 310.5 305.0)" stroke="#000" stroke-width="1.5" fill="#fff"/>
<path d="M306.1,311.6 L313.1,307.7 A3.6,1.6 61.3 0 0 309.7,301.4 L302.7,305.2 A3.6,1.6 61.3 0 0 306.1,311.6 Z" stroke="#000" stroke-width="1.3" fill="#222" stroke-linejoin="round" stroke-linecap="round"/>
<ellipse cx="304.4" cy="308.4" rx="3.6" ry="1.6" transform="rotate(61.25696436335934 304.4 308.4)" stroke="#000" stroke-width="1.3" fill="#222"/>
<path d="M373.5,282.0 L378.5,278.7 A9.0,5.6 56.6 0 0 368.5,263.7 L363.5,267.0 A9.0,5.6 56.6 0 0 373.5,282.0 Z" stroke="#000" stroke-width="1.1" fill="#fff" stroke-linejoin="round" stroke-linecap="round"/>
<ellipse cx="368.5" cy="274.5" rx="9.0" ry="5.6" transform="rotate(56.57518881739611 368.5 274.5)" stroke="#000" stroke-width="1.1" fill="#fff"/>
<ellipse cx="368.5" cy="274.5" rx="4.6" ry="3.0" transform="rotate(57 368.5 274.5)" stroke="#000" stroke-width="1.0" fill="none"/>
<ellipse cx="368.5" cy="274.5" rx="6.8" ry="4.4" transform="rotate(57 368.5 274.5)" stroke="#000" stroke-width="2.2" fill="none"/>
<ellipse cx="368.5" cy="274.5" rx="6.8" ry="4.4" transform="rotate(57 368.5 274.5)" stroke="#fff" stroke-width="0.8" fill="none"/>
<ellipse cx="368.5" cy="274.5" rx="3.6" ry="2.4" transform="rotate(57 368.5 274.5)" stroke="#000" stroke-width="1.0" fill="#fff"/>
<path d="M326.4,249.8 L314.2,242.4 L286.7,299.8 L297.1,304.1" stroke="#000" stroke-width="0.9" fill="none" stroke-linejoin="round"/>
<path d="M313.0,254.0 L318.0,251.0 L324.6,255.5 L319.8,258.6 Z" stroke="#000" stroke-width="1.0" fill="#fff" stroke-linejoin="round"/>
<line x1="315.0" y1="254.5" x2="321.0" y2="258.0" stroke="#000" stroke-width="0.6" />
<path d="M315.0,270.9 L318.0,259.9 A1.6,0.8 15.3 0 0 315.0,259.1 L312.0,270.1 A1.6,0.8 15.3 0 0 315.0,270.9 Z" stroke="#000" stroke-width="1.0" fill="#fff" stroke-linejoin="round" stroke-linecap="round"/>
<ellipse cx="313.5" cy="270.5" rx="1.6" ry="0.8" transform="rotate(15.255118703057777 313.5 270.5)" stroke="#000" stroke-width="1.0" fill="#fff"/>
<line x1="312.5" y1="269.0" x2="317.0" y2="267.5" stroke="#000" stroke-width="1.2" />
<line x1="312.5" y1="266.6" x2="317.0" y2="265.1" stroke="#000" stroke-width="1.2" />
<line x1="312.5" y1="264.2" x2="317.0" y2="262.7" stroke="#000" stroke-width="1.2" />
<line x1="312.5" y1="261.8" x2="317.0" y2="260.3" stroke="#000" stroke-width="1.2" />
<path d="M304.6,274.5 L309.5,271.5 L312.5,278.5 L318.0,280.3 L314.5,284.6 L309.5,283.5 Z" stroke="#000" stroke-width="1.0" fill="#fff" stroke-linejoin="round"/>
<line x1="309.5" y1="271.5" x2="310.0" y2="279.0" stroke="#000" stroke-width="0.7" />
<line x1="310.0" y1="279.0" x2="318.0" y2="280.3" stroke="#000" stroke-width="0.7" />
<path d="M298.5,288.5 L304.0,285.5 L309.3,289.5 L303.8,292.5 Z" stroke="#000" stroke-width="1.0" fill="#fff" stroke-linejoin="round"/>
<ellipse cx="304.0" cy="289.0" rx="1.8" ry="1.3" transform="rotate(0 304.0 289.0)" stroke="#000" stroke-width="1.2" fill="none"/>
<path d="M293.6,299.0 L299.0,296.0 L300.5,299.5 L295.5,302.3 Z" stroke="#000" stroke-width="1.0" fill="#fff" stroke-linejoin="round"/>
<path d="M300.0,299.5 L304.5,297.0 L305.3,300.0 L301.5,302.0 Z" stroke="#000" stroke-width="1.0" fill="#fff" stroke-linejoin="round"/>
</g>
<g id="parts5">
<path d="M282.7,307.3 L291,306.4 L296.5,310.1 L302,313.7 L309.3,319.2 L316.6,322 L323.9,326.6 L327,329 L327.6,351.3 L324.9,355 L322.1,331.1 L294.7,347.6 L292,330 Z" stroke="#000" stroke-width="0.0" fill="#fff" stroke-linejoin="round" stroke-linecap="round"/>
<path d="M282.7,307.3 L291,306.4 L296.5,310.1 L302,313.7 L309.3,319.2 L316.6,322 L323.9,326.6" stroke="#000" stroke-width="1.1" fill="none" stroke-linejoin="round" stroke-linecap="round"/>
<path d="M298.3,314.7 L303.8,318.3 L311.1,322.9 L318.5,326.6 L323,330.2" stroke="#000" stroke-width="1.0" fill="none" stroke-linejoin="round" stroke-linecap="round"/>
<path d="M296.5,310.1 L298.3,314.7" stroke="#000" stroke-width="1.0" fill="none" stroke-linejoin="round" stroke-linecap="round"/>
<ellipse cx="327.6" cy="328.8" rx="2.8" ry="3.2" transform="rotate(0 327.6 328.8)" stroke="#000" stroke-width="1.3" fill="#fff"/>
<path d="M322.1,331.1 L324.9,355 L327.6,351.3 L326.7,332" stroke="#000" stroke-width="1.1" fill="#fff" stroke-linejoin="round" stroke-linecap="round"/>
<path d="M294.7,347.6 L322.5,332" stroke="#000" stroke-width="1.0" fill="none" stroke-linejoin="round" stroke-linecap="round"/>
<path d="M311.1,339.4 L323,333.9" stroke="#000" stroke-width="0.8" fill="none" stroke-linejoin="round" stroke-linecap="round"/>
<path d="M256.5,318.4 C257.5,313 260,309.5 264,307 C267,305.2 271,304.5 274.5,304.6 C280,305 285,308.5 288.5,314 C292,319.5 294.5,327 295,333.5 C295.5,340 295.5,347 295,352 C294.5,355 293.5,357 292.2,358 L264,340.4 C261,336 258.5,330 257,325 Z" stroke="#000" stroke-width="1.1" fill="#fff" stroke-linejoin="round" stroke-linecap="round"/>
<path d="M262,308.7 C263.5,313 264,317.5 266,320.5 C268.5,322 272,321.5 275,322 C278,323.5 279,327 280,330.5 C282,333 285,333.5 287,334.5" stroke="#000" stroke-width="0.9" fill="none" stroke-linejoin="round" stroke-linecap="round"/>
<ellipse cx="272.6" cy="328.7" rx="4.4" ry="5.0" transform="rotate(-30 272.6 328.7)" stroke="#000" stroke-width="1.1" fill="#fff"/>
<ellipse cx="274.7" cy="340.3" rx="3.2" ry="2.9" transform="rotate(0 274.7 340.3)" stroke="#000" stroke-width="1.0" fill="none"/>
<path d="M284,343.5 L289.5,341 L291.5,349 L286,351.5 Z" stroke="#000" stroke-width="0.9" fill="#fff" stroke-linejoin="round" stroke-linecap="round"/>
<ellipse cx="288.5" cy="346.5" rx="1.2" ry="1.2" transform="rotate(0 288.5 346.5)" stroke="#000" stroke-width="0.8" fill="none"/>
<ellipse cx="291.0" cy="352.5" rx="1.4" ry="1.4" transform="rotate(0 291.0 352.5)" stroke="#000" stroke-width="0.8" fill="none"/>
<path d="M254.4,349 L262.5,343 L268,345 L284,350 L290,358 L295,368 L289,373.5 L278.5,375 L264,368.5 L257.5,360 Z" stroke="#000" stroke-width="1.1" fill="#fff" stroke-linejoin="round" stroke-linecap="round"/>
<ellipse cx="272.8" cy="359.5" rx="10.0" ry="12.5" transform="rotate(-32 272.8 359.5)" stroke="#000" stroke-width="1.3" fill="#fff"/>
<ellipse cx="272.8" cy="360.0" rx="7.2" ry="9.2" transform="rotate(-32 272.8 360.0)" stroke="#000" stroke-width="1.1" fill="#fff"/>
<ellipse cx="274.0" cy="362.0" rx="4.8" ry="6.2" transform="rotate(-32 274.0 362.0)" stroke="#000" stroke-width="2.0" fill="#fff"/>
<ellipse cx="258.0" cy="351.0" rx="1.2" ry="1.2" transform="rotate(0 258.0 351.0)" stroke="#000" stroke-width="0.8" fill="none"/>
</g>
<g id="parts6">
<path d="M254.8,372.0 L275.8,360.0 A1.7,0.8 60.3 0 0 274.2,357.0 L253.2,369.0 A1.7,0.8 60.3 0 0 254.8,372.0 Z" stroke="#000" stroke-width="1.0" fill="#fff" stroke-linejoin="round" stroke-linecap="round"/>
<path d="M248.2,377.4 L257.7,372.3 A3.5,1.8 61.8 0 0 254.3,366.1 L244.8,371.2 A3.5,1.8 61.8 0 0 248.2,377.4 Z" stroke="#000" stroke-width="1.3" fill="#fff" stroke-linejoin="round" stroke-linecap="round"/>
<ellipse cx="246.5" cy="374.3" rx="3.5" ry="1.8" transform="rotate(61.77122381863031 246.5 374.3)" stroke="#000" stroke-width="1.3" fill="#fff"/>
<line x1="249.0" y1="370.0" x2="251.0" y2="376.5" stroke="#000" stroke-width="1.0" />
<line x1="251.5" y1="368.7" x2="253.5" y2="375.2" stroke="#000" stroke-width="1.0" />
<line x1="254.0" y1="367.4" x2="256.0" y2="373.9" stroke="#000" stroke-width="1.0" />
<path d="M228.6,386.7 L248.6,376.6 A3.6,1.8 63.2 0 0 245.4,370.2 L225.4,380.3 A3.6,1.8 63.2 0 0 228.6,386.7 Z" stroke="#000" stroke-width="1.1" fill="#fff" stroke-linejoin="round" stroke-linecap="round"/>
<ellipse cx="227.0" cy="383.5" rx="3.6" ry="1.8" transform="rotate(63.20622437119679 227.0 383.5)" stroke="#000" stroke-width="1.1" fill="#fff"/>
<line x1="229.7" y1="379.5" x2="227.9" y2="386.3" stroke="#000" stroke-width="1.3" />
<line x1="231.5" y1="378.6" x2="229.7" y2="385.4" stroke="#000" stroke-width="1.3" />
<line x1="233.3" y1="377.7" x2="231.5" y2="384.5" stroke="#000" stroke-width="1.3" />
<line x1="235.0" y1="376.8" x2="233.2" y2="383.6" stroke="#000" stroke-width="1.3" />
<line x1="236.8" y1="375.9" x2="235.0" y2="382.7" stroke="#000" stroke-width="1.3" />
<line x1="238.6" y1="375.0" x2="236.8" y2="381.8" stroke="#000" stroke-width="1.3" />
<line x1="240.4" y1="374.1" x2="238.6" y2="380.9" stroke="#000" stroke-width="1.3" />
<line x1="242.2" y1="373.2" x2="240.4" y2="380.0" stroke="#000" stroke-width="1.3" />
<line x1="244.0" y1="372.3" x2="242.2" y2="379.1" stroke="#000" stroke-width="1.3" />
<line x1="245.7" y1="371.3" x2="243.9" y2="378.1" stroke="#000" stroke-width="1.3" />
<ellipse cx="227.0" cy="383.5" rx="3.6" ry="1.9" transform="rotate(63 227.0 383.5)" stroke="#000" stroke-width="1.3" fill="#fff"/>
<ellipse cx="221.8" cy="389.2" rx="3.0" ry="2.3" transform="rotate(-10 221.8 389.2)" stroke="#000" stroke-width="1.0" fill="#fff"/>
<path d="M271.9,378.9 L287.7,381.4 L271.3,433.1 L255.5,431.2" stroke="#000" stroke-width="0.9" fill="none" stroke-linejoin="round"/>
<ellipse cx="273.0" cy="387.8" rx="4.8" ry="3.7" transform="rotate(0 273.0 387.8)" stroke="#000" stroke-width="1.1" fill="#fff"/>
<path d="M277.6,387.0 L275.3,390.0 L270.7,390.0 L268.4,387.0 L270.7,384.0 L275.3,384.0 Z" stroke="#000" stroke-width="1.1" fill="#fff" stroke-linejoin="round"/>
<path d="M278.7,384.2 L276.4,387.2 L271.8,387.2 L269.5,384.2 L271.8,381.2 L276.4,381.2 Z" stroke="#000" stroke-width="1.1" fill="#fff" stroke-linejoin="round"/>
<line x1="277.6" y1="387.0" x2="278.7" y2="384.2" stroke="#000" stroke-width="0.9900000000000001" />
<line x1="270.7" y1="390.0" x2="271.8" y2="387.2" stroke="#000" stroke-width="0.9900000000000001" />
<line x1="268.4" y1="387.0" x2="269.5" y2="384.2" stroke="#000" stroke-width="0.9900000000000001" />
<line x1="275.3" y1="384.0" x2="276.4" y2="381.2" stroke="#000" stroke-width="0.9900000000000001" />
<ellipse cx="274.1" cy="384.2" rx="2.1" ry="1.6" transform="rotate(0 274.1 384.2)" stroke="#000" stroke-width="1.32" fill="none"/>
<ellipse cx="269.7" cy="395.6" rx="2.8" ry="2.0" transform="rotate(-10 269.7 395.6)" stroke="#000" stroke-width="1.0" fill="none"/>
<path d="M261.5,402 C263,399.5 267,398.8 271,400 C273.5,401.5 274,404 273.5,406 L268.5,409 C266,408 263,405.5 261.5,402 Z" stroke="#000" stroke-width="1.1" fill="#fff" stroke-linejoin="round" stroke-linecap="round"/>
<path d="M265,402 L268,407.5 L270.5,403" stroke="#000" stroke-width="1.5" fill="none" stroke-linejoin="round" stroke-linecap="round"/>
<path d="M268.1,414.5 L265.8,417.5 L261.2,417.5 L258.9,414.5 L261.2,411.5 L265.8,411.5 Z" stroke="#000" stroke-width="1.1" fill="#fff" stroke-linejoin="round"/>
<path d="M269.0,412.3 L266.7,415.3 L262.1,415.3 L259.8,412.3 L262.1,409.3 L266.7,409.3 Z" stroke="#000" stroke-width="1.1" fill="#fff" stroke-linejoin="round"/>
<line x1="268.1" y1="414.5" x2="269.0" y2="412.3" stroke="#000" stroke-width="0.9900000000000001" />
<line x1="261.2" y1="417.5" x2="262.1" y2="415.3" stroke="#000" stroke-width="0.9900000000000001" />
<line x1="258.9" y1="414.5" x2="259.8" y2="412.3" stroke="#000" stroke-width="0.9900000000000001" />
<line x1="265.8" y1="411.5" x2="266.7" y2="409.3" stroke="#000" stroke-width="0.9900000000000001" />
<ellipse cx="264.4" cy="412.3" rx="2.1" ry="1.6" transform="rotate(0 264.4 412.3)" stroke="#000" stroke-width="1.32" fill="none"/>
<ellipse cx="260.0" cy="425.8" rx="5.5" ry="4.2" transform="rotate(0 260.0 425.8)" stroke="#000" stroke-width="1.1" fill="#fff"/>
<path d="M265.2,425.0 L262.6,428.4 L257.4,428.4 L254.8,425.0 L257.4,421.6 L262.6,421.6 Z" stroke="#000" stroke-width="1.1" fill="#fff" stroke-linejoin="round"/>
<path d="M266.2,422.4 L263.6,425.8 L258.4,425.8 L255.8,422.4 L258.4,419.0 L263.6,419.0 Z" stroke="#000" stroke-width="1.1" fill="#fff" stroke-linejoin="round"/>
<line x1="265.2" y1="425.0" x2="266.2" y2="422.4" stroke="#000" stroke-width="0.9900000000000001" />
<line x1="257.4" y1="428.4" x2="258.4" y2="425.8" stroke="#000" stroke-width="0.9900000000000001" />
<line x1="254.8" y1="425.0" x2="255.8" y2="422.4" stroke="#000" stroke-width="0.9900000000000001" />
<line x1="262.6" y1="421.6" x2="263.6" y2="419.0" stroke="#000" stroke-width="0.9900000000000001" />
<ellipse cx="261.0" cy="422.4" rx="2.3" ry="1.8" transform="rotate(0 261.0 422.4)" stroke="#000" stroke-width="1.32" fill="none"/>
<path d="M327.9,312.2 L343.8,303.7 L375.6,321.4 L358.5,330.5" stroke="#000" stroke-width="0.9" fill="none" stroke-linejoin="round"/>
<path d="M320.0,334.2 L334.0,339.7 L359.0,326.0" stroke="#000" stroke-width="0.9" fill="none" stroke-linejoin="round"/>
<path d="M333.5,312 L336.5,309.8 L338.5,313 L337.5,317 L334.5,316.5 Z" stroke="#000" stroke-width="1.1" fill="#fff" stroke-linejoin="round" stroke-linecap="round"/>
<line x1="336.5" y1="313.5" x2="348.0" y2="320.5" stroke="#000" stroke-width="1.0" />
<line x1="335.8" y1="315.8" x2="347.5" y2="322.6" stroke="#000" stroke-width="1.0" />
<path d="M347.5,318.5 L351,317.8 L352.5,323 L356.5,321.5 L358,326.5 L352.5,328.5 L350,323.5 L348,324.5 Z" stroke="#000" stroke-width="1.3" fill="#fff" stroke-linejoin="round" stroke-linecap="round"/>
<line x1="349.5" y1="319.0" x2="351.0" y2="327.0" stroke="#000" stroke-width="1.4" />
<path d="M350.5,312.2 L373.7,300.0" stroke="#000" stroke-width="0.9" fill="none" stroke-linejoin="round"/>
<path d="M398.1,300.0 L417.7,311.6 L367.6,339.0" stroke="#000" stroke-width="0.9" fill="none" stroke-linejoin="round"/>
<line x1="353.0" y1="347.6" x2="361.5" y2="343.3" stroke="#000" stroke-width="0.9" />
<path d="M309.2,347.0 L354.0,374.0 L363.3,367.8" stroke="#000" stroke-width="0.9" fill="none" stroke-linejoin="round"/>
<ellipse cx="321.8" cy="345.5" rx="1.6" ry="1.3" transform="rotate(0 321.8 345.5)" stroke="#000" stroke-width="1.0" fill="none"/>
<ellipse cx="330.5" cy="352.8" rx="5.2" ry="4.0" transform="rotate(0 330.5 352.8)" stroke="#000" stroke-width="1.1" fill="#fff"/>
<path d="M335.5,352.0 L333.0,355.2 L328.0,355.2 L325.5,352.0 L328.0,348.8 L333.0,348.8 Z" stroke="#000" stroke-width="1.1" fill="#fff" stroke-linejoin="round"/>
<path d="M336.5,349.4 L334.0,352.6 L329.0,352.6 L326.5,349.4 L329.0,346.2 L334.0,346.2 Z" stroke="#000" stroke-width="1.1" fill="#fff" stroke-linejoin="round"/>
<line x1="335.5" y1="352.0" x2="336.5" y2="349.4" stroke="#000" stroke-width="0.9900000000000001" />
<line x1="328.0" y1="355.2" x2="329.0" y2="352.6" stroke="#000" stroke-width="0.9900000000000001" />
<line x1="325.5" y1="352.0" x2="326.5" y2="349.4" stroke="#000" stroke-width="0.9900000000000001" />
<line x1="333.0" y1="348.8" x2="334.0" y2="346.2" stroke="#000" stroke-width="0.9900000000000001" />
<ellipse cx="331.5" cy="349.4" rx="2.2" ry="1.8" transform="rotate(0 331.5 349.4)" stroke="#000" stroke-width="1.32" fill="none"/>
<ellipse cx="338.7" cy="355.0" rx="2.0" ry="2.2" transform="rotate(0 338.7 355.0)" stroke="#000" stroke-width="1.0" fill="none"/>
<path d="M342.5,356 L347,353.8 L349.3,359 L347.5,364.5 L343.5,364 L345.5,358.5 Z" stroke="#000" stroke-width="1.4" fill="#fff" stroke-linejoin="round" stroke-linecap="round"/>
<path d="M358.3,365.5 L355.9,368.6 L351.1,368.6 L348.7,365.5 L351.1,362.4 L355.9,362.4 Z" stroke="#000" stroke-width="1.1" fill="#fff" stroke-linejoin="round"/>
<path d="M359.1,363.5 L356.7,366.6 L351.9,366.6 L349.5,363.5 L351.9,360.4 L356.7,360.4 Z" stroke="#000" stroke-width="1.1" fill="#fff" stroke-linejoin="round"/>
<line x1="358.3" y1="365.5" x2="359.1" y2="363.5" stroke="#000" stroke-width="0.9900000000000001" />
<line x1="351.1" y1="368.6" x2="351.9" y2="366.6" stroke="#000" stroke-width="0.9900000000000001" />
<line x1="348.7" y1="365.5" x2="349.5" y2="363.5" stroke="#000" stroke-width="0.9900000000000001" />
<line x1="355.9" y1="362.4" x2="356.7" y2="360.4" stroke="#000" stroke-width="0.9900000000000001" />
<ellipse cx="354.3" cy="363.5" rx="2.2" ry="1.7" transform="rotate(0 354.3 363.5)" stroke="#000" stroke-width="1.32" fill="none"/>
<path d="M356.9,383.3 L379.0,371.1 A2.0,1.0 61.1 0 0 377.0,367.5 L354.9,379.7 A2.0,1.0 61.1 0 0 356.9,383.3 Z" stroke="#000" stroke-width="1.0" fill="#fff" stroke-linejoin="round" stroke-linecap="round"/>
<path d="M400.1,366.6 L411.4,360.2 A8.3,4.6 60.4 0 0 403.2,345.8 L391.9,352.2 A8.3,4.6 60.4 0 0 400.1,366.6 Z" stroke="#000" stroke-width="1.2" fill="#fff" stroke-linejoin="round" stroke-linecap="round"/>
<line x1="400.9" y1="365.9" x2="412.2" y2="359.5" stroke="#000" stroke-width="1.3" />
<line x1="401.7" y1="363.6" x2="413.0" y2="357.2" stroke="#000" stroke-width="1.3" />
<line x1="401.3" y1="360.5" x2="412.6" y2="354.1" stroke="#000" stroke-width="1.3" />
<line x1="399.9" y1="357.1" x2="411.2" y2="350.7" stroke="#000" stroke-width="1.3" />
<line x1="397.8" y1="354.2" x2="409.1" y2="347.8" stroke="#000" stroke-width="1.3" />
<line x1="395.2" y1="352.4" x2="406.5" y2="345.9" stroke="#000" stroke-width="1.3" />
<line x1="392.9" y1="351.9" x2="404.2" y2="345.4" stroke="#000" stroke-width="1.3" />
<ellipse cx="407.3" cy="353.0" rx="8.3" ry="4.6" transform="rotate(60 407.3 353.0)" stroke="#000" stroke-width="1.3" fill="none"/>
<path d="M398.8,370.4 L401.8,368.7 A11.0,6.1 60.4 0 0 391.0,349.6 L387.9,351.3 A11.0,6.1 60.4 0 0 398.8,370.4 Z" stroke="#000" stroke-width="1.3" fill="#fff" stroke-linejoin="round" stroke-linecap="round"/>
<ellipse cx="393.4" cy="360.9" rx="11.0" ry="6.1" transform="rotate(60.38309020278121 393.4 360.9)" stroke="#000" stroke-width="1.3" fill="#fff"/>
<ellipse cx="393.4" cy="360.9" rx="8.5" ry="4.6" transform="rotate(60 393.4 360.9)" stroke="#000" stroke-width="0.8" fill="none"/>
<path d="M385.0,374.4 L397.1,367.5 A7.6,4.7 60.4 0 0 389.6,354.3 L377.4,361.2 A7.6,4.7 60.4 0 0 385.0,374.4 Z" stroke="#000" stroke-width="1.2" fill="#fff" stroke-linejoin="round" stroke-linecap="round"/>
<ellipse cx="381.2" cy="367.8" rx="7.6" ry="4.7" transform="rotate(60.383090202781126 381.2 367.8)" stroke="#000" stroke-width="1.2" fill="#fff"/>
<ellipse cx="381.2" cy="367.8" rx="5.6" ry="3.5" transform="rotate(60 381.2 367.8)" stroke="#000" stroke-width="1.2" fill="#fff"/>
<ellipse cx="381.2" cy="367.8" rx="2.8" ry="1.8" transform="rotate(60 381.2 367.8)" stroke="#000" stroke-width="1.3" fill="#fff"/>
</g>
<g id="parts7">
<path d="M427.7,311 L430,309.8 L453.5,321.3 L455.2,323.5 L455.4,351 L453,352.3 L440,347.5 L428.5,338 Z" stroke="#000" stroke-width="1.2" fill="#fff" stroke-linejoin="round" stroke-linecap="round"/>
<path d="M431,316 L451,325.5 L452,347.5 L441,343.5 L431.5,335 Z" stroke="#000" stroke-width="0.8" fill="none" stroke-linejoin="round" stroke-linecap="round"/>
<ellipse cx="438.5" cy="331.2" rx="7.6" ry="10.8" transform="rotate(-22 438.5 331.2)" stroke="#000" stroke-width="1.2" fill="#fff"/>
<ellipse cx="438.5" cy="331.2" rx="6.2" ry="9.3" transform="rotate(-22 438.5 331.2)" stroke="#000" stroke-width="0.6" fill="none"/>
<ellipse cx="430.5" cy="313.5" rx="1.5" ry="1.4" transform="rotate(0 430.5 313.5)" stroke="#000" stroke-width="1.0" fill="none"/>
<ellipse cx="452.0" cy="323.5" rx="1.5" ry="1.4" transform="rotate(0 452.0 323.5)" stroke="#000" stroke-width="1.0" fill="none"/>
<ellipse cx="453.0" cy="349.0" rx="1.4" ry="1.3" transform="rotate(0 453.0 349.0)" stroke="#000" stroke-width="1.0" fill="none"/>
<path d="M409.2,321 L411.5,319.8 L436.5,332.5 L438.4,335 L438.6,359.5 L436,360.8 L422,356.5 L410.5,346.5 L409.2,344 Z" stroke="#000" stroke-width="1.2" fill="#fff" stroke-linejoin="round" stroke-linecap="round"/>
<path d="M413.6,327.5 L433.5,337.5 L434.5,355 L422.5,352 L414,344 Z" stroke="#000" stroke-width="1.0" fill="none" stroke-linejoin="round" stroke-linecap="round"/>
<path d="M413.6,327.5 L415.5,329.5 L416,342.5" stroke="#000" stroke-width="0.6" fill="none" stroke-linejoin="round" stroke-linecap="round"/>
<ellipse cx="412.0" cy="322.5" rx="1.5" ry="1.4" transform="rotate(0 412.0 322.5)" stroke="#000" stroke-width="1.0" fill="none"/>
<ellipse cx="435.5" cy="334.0" rx="1.5" ry="1.4" transform="rotate(0 435.5 334.0)" stroke="#000" stroke-width="1.0" fill="none"/>
<ellipse cx="435.0" cy="358.0" rx="1.4" ry="1.3" transform="rotate(0 435.0 358.0)" stroke="#000" stroke-width="1.0" fill="none"/>
<path d="M470.1,309.3 L483.4,316.2 L513.2,298.3 L499.0,291.5" stroke="#000" stroke-width="0.9" fill="none" stroke-linejoin="round"/>
<ellipse cx="486.6" cy="305.8" rx="2.9" ry="4.0" transform="rotate(-25 486.6 305.8)" stroke="#000" stroke-width="1.5" fill="#fff"/>
<ellipse cx="486.8" cy="305.6" rx="1.2" ry="1.9" transform="rotate(-25 486.8 305.6)" stroke="#000" stroke-width="1.0" fill="none"/>
<path d="M492.5,304.6 L497.5,301.6 A1.9,1.1 59.0 0 0 495.5,298.4 L490.5,301.4 A1.9,1.1 59.0 0 0 492.5,304.6 Z" stroke="#000" stroke-width="1.1" fill="#fff" stroke-linejoin="round" stroke-linecap="round"/>
<ellipse cx="491.5" cy="303.0" rx="1.9" ry="1.1" transform="rotate(59.03624346792648 491.5 303.0)" stroke="#000" stroke-width="1.1" fill="#fff"/>
<line x1="492.0" y1="300.8" x2="493.2" y2="304.6" stroke="#000" stroke-width="1.1" />
<line x1="493.6" y1="299.9" x2="494.8" y2="303.7" stroke="#000" stroke-width="1.1" />
<line x1="495.2" y1="299.0" x2="496.4" y2="302.8" stroke="#000" stroke-width="1.1" />
<path d="M499.4,302.8 L502.9,300.8 A3.8,2.3 60.3 0 0 499.1,294.2 L495.6,296.2 A3.8,2.3 60.3 0 0 499.4,302.8 Z" stroke="#000" stroke-width="1.3" fill="#fff" stroke-linejoin="round" stroke-linecap="round"/>
<ellipse cx="497.5" cy="299.5" rx="3.8" ry="2.3" transform="rotate(60.25511870305778 497.5 299.5)" stroke="#000" stroke-width="1.3" fill="#fff"/>
<ellipse cx="497.5" cy="299.5" rx="3.8" ry="2.3" transform="rotate(60 497.5 299.5)" stroke="#000" stroke-width="1.6" fill="#fff"/>
<line x1="496.0" y1="297.0" x2="498.5" y2="302.0" stroke="#000" stroke-width="1.2" />
<line x1="498.5" y1="296.0" x2="501.0" y2="301.0" stroke="#000" stroke-width="1.2" />
<path d="M457.2,386.5 L470.2,379.6 L496.4,393.4 L481.2,402.3" stroke="#000" stroke-width="0.9" fill="none" stroke-linejoin="round"/>
<path d="M460.2,390.5 L465,388 L466.2,390 L461.5,392.7 Z" stroke="#000" stroke-width="1.0" fill="#fff" stroke-linejoin="round" stroke-linecap="round"/>
<path d="M471.7,401.6 L479.7,398.1 A5.6,3.4 66.4 0 0 475.3,387.9 L467.3,391.4 A5.6,3.4 66.4 0 0 471.7,401.6 Z" stroke="#000" stroke-width="1.1" fill="#fff" stroke-linejoin="round" stroke-linecap="round"/>
<ellipse cx="469.5" cy="396.5" rx="5.6" ry="3.4" transform="rotate(66.37062226934319 469.5 396.5)" stroke="#000" stroke-width="1.1" fill="#fff"/>
<line x1="472.5" y1="401.1" x2="480.5" y2="397.6" stroke="#000" stroke-width="1.2" />
<line x1="473.3" y1="399.2" x2="481.3" y2="395.7" stroke="#000" stroke-width="1.2" />
<line x1="473.1" y1="396.5" x2="481.1" y2="393.0" stroke="#000" stroke-width="1.2" />
<line x1="471.9" y1="393.9" x2="479.9" y2="390.4" stroke="#000" stroke-width="1.2" />
<line x1="470.1" y1="391.9" x2="478.1" y2="388.4" stroke="#000" stroke-width="1.2" />
<line x1="468.1" y1="391.2" x2="476.1" y2="387.7" stroke="#000" stroke-width="1.2" />
<ellipse cx="469.5" cy="396.5" rx="5.6" ry="3.4" transform="rotate(66 469.5 396.5)" stroke="#000" stroke-width="1.3" fill="#fff"/>
<ellipse cx="469.5" cy="396.5" rx="2.0" ry="1.4" transform="rotate(66 469.5 396.5)" stroke="#000" stroke-width="1.0" fill="none"/>
<path d="M458.8,416.8 L465.8,412.8 A9.6,6.0 60.3 0 0 456.2,396.2 L449.2,400.2 A9.6,6.0 60.3 0 0 458.8,416.8 Z" stroke="#000" stroke-width="1.3" fill="#fff" stroke-linejoin="round" stroke-linecap="round"/>
<line x1="459.4" y1="416.4" x2="466.4" y2="412.4" stroke="#000" stroke-width="1.6" />
<line x1="460.4" y1="415.1" x2="467.4" y2="411.1" stroke="#000" stroke-width="1.6" />
<line x1="460.9" y1="413.3" x2="467.9" y2="409.3" stroke="#000" stroke-width="1.6" />
<line x1="461.0" y1="411.2" x2="468.0" y2="407.2" stroke="#000" stroke-width="1.6" />
<line x1="460.6" y1="409.0" x2="467.6" y2="405.0" stroke="#000" stroke-width="1.6" />
<line x1="459.7" y1="406.7" x2="466.7" y2="402.7" stroke="#000" stroke-width="1.6" />
<line x1="458.5" y1="404.5" x2="465.5" y2="400.5" stroke="#000" stroke-width="1.6" />
<line x1="457.0" y1="402.6" x2="464.0" y2="398.6" stroke="#000" stroke-width="1.6" />
<line x1="455.2" y1="401.1" x2="462.2" y2="397.1" stroke="#000" stroke-width="1.6" />
<line x1="453.4" y1="400.1" x2="460.4" y2="396.1" stroke="#000" stroke-width="1.6" />
<line x1="451.6" y1="399.7" x2="458.6" y2="395.7" stroke="#000" stroke-width="1.6" />
<line x1="450.0" y1="399.9" x2="457.0" y2="395.9" stroke="#000" stroke-width="1.6" />
<path d="M459.1,417.3 L457.5,416.5 L456.9,417.9 L455.4,416.5 L454.4,417.3 L453.2,415.5 L451.8,415.7 L451.1,413.7 L449.5,413.1 L449.3,411.2 L447.7,410.1 L448.1,408.5 L446.7,406.8 L447.6,405.7 L446.6,403.8 L447.8,403.3 L447.3,401.3 L448.8,401.5 L448.9,399.7 L450.5,400.5 L451.1,399.1 L452.6,400.5 L453.6,399.7 L454.8,401.5 L456.2,401.3 L456.9,403.3 L458.5,403.9 L458.7,405.8 L460.3,406.9 L459.9,408.5 L461.3,410.2 L460.4,411.3 L461.4,413.2 L460.2,413.7 L460.7,415.7 L459.2,415.5 Z" stroke="#000" stroke-width="1.4" fill="#fff" stroke-linejoin="round"/>
<ellipse cx="454.0" cy="408.5" rx="6.0" ry="3.8" transform="rotate(60 454.0 408.5)" stroke="#000" stroke-width="1.8" fill="#fff"/>
<ellipse cx="454.0" cy="408.5" rx="3.6" ry="2.3" transform="rotate(60 454.0 408.5)" stroke="#000" stroke-width="1.1" fill="#fff"/>
<path d="M476.9,444.2 L491.9,435.7 A14.0,8.4 60.5 0 0 478.1,411.3 L463.1,419.8 A14.0,8.4 60.5 0 0 476.9,444.2 Z" stroke="#000" stroke-width="1.2" fill="#fff" stroke-linejoin="round" stroke-linecap="round"/>
<line x1="477.8" y1="443.5" x2="492.8" y2="435.0" stroke="#000" stroke-width="2.1" />
<line x1="479.2" y1="441.7" x2="494.2" y2="433.2" stroke="#000" stroke-width="2.1" />
<line x1="479.9" y1="439.1" x2="494.9" y2="430.6" stroke="#000" stroke-width="2.1" />
<line x1="480.0" y1="436.1" x2="495.0" y2="427.6" stroke="#000" stroke-width="2.1" />
<line x1="479.4" y1="432.8" x2="494.4" y2="424.3" stroke="#000" stroke-width="2.1" />
<line x1="478.1" y1="429.5" x2="493.1" y2="421.0" stroke="#000" stroke-width="2.1" />
<line x1="476.3" y1="426.3" x2="491.3" y2="417.8" stroke="#000" stroke-width="2.1" />
<line x1="474.1" y1="423.5" x2="489.1" y2="415.0" stroke="#000" stroke-width="2.1" />
<line x1="471.6" y1="421.3" x2="486.6" y2="412.8" stroke="#000" stroke-width="2.1" />
<line x1="469.0" y1="419.8" x2="484.0" y2="411.3" stroke="#000" stroke-width="2.1" />
<line x1="466.4" y1="419.2" x2="481.4" y2="410.7" stroke="#000" stroke-width="2.1" />
<line x1="464.1" y1="419.4" x2="479.1" y2="410.9" stroke="#000" stroke-width="2.1" />
<ellipse cx="470.0" cy="432.0" rx="14.0" ry="8.4" transform="rotate(60 470.0 432.0)" stroke="#000" stroke-width="1.3" fill="none"/>
<path d="M467.3,446.1 L477.3,440.6 A11.0,7.7 61.2 0 0 466.7,421.4 L456.7,426.9 A11.0,7.7 61.2 0 0 467.3,446.1 Z" stroke="#000" stroke-width="1.0" fill="#fff" stroke-linejoin="round" stroke-linecap="round"/>
<ellipse cx="462.0" cy="436.5" rx="11.0" ry="7.7" transform="rotate(61.189206257026946 462.0 436.5)" stroke="#000" stroke-width="1.0" fill="#fff"/>
<ellipse cx="462.0" cy="436.5" rx="11.0" ry="7.7" transform="rotate(60 462.0 436.5)" stroke="#000" stroke-width="1.0" fill="#fff"/>
<ellipse cx="462.3" cy="436.3" rx="8.0" ry="5.6" transform="rotate(60 462.3 436.3)" stroke="#000" stroke-width="0.7" fill="none"/>
<path d="M456.5,434.5 L460.0,431.0 L465.5,431.8 L467.0,437.0 L463.5,442.0 L458.0,441.5 Z" stroke="#000" stroke-width="1.2" fill="#fff" stroke-linejoin="round"/>
<line x1="459.0" y1="433.5" x2="463.5" y2="440.5" stroke="#000" stroke-width="0.6" />
<path d="M494.5,413 C493.5,416 495,419.5 498.5,420 C500,420 501,419 501.5,418" stroke="#000" stroke-width="1.0" fill="none" stroke-linejoin="round" stroke-linecap="round"/>
<ellipse cx="500.0" cy="413.5" rx="6.0" ry="2.4" transform="rotate(60 500.0 413.5)" stroke="#000" stroke-width="1.5" fill="none"/>
<ellipse cx="502.7" cy="412.0" rx="6.0" ry="2.4" transform="rotate(60 502.7 412.0)" stroke="#000" stroke-width="1.5" fill="none"/>
<ellipse cx="505.4" cy="410.4" rx="6.0" ry="2.4" transform="rotate(60 505.4 410.4)" stroke="#000" stroke-width="1.5" fill="none"/>
<ellipse cx="508.1" cy="408.9" rx="6.0" ry="2.4" transform="rotate(60 508.1 408.9)" stroke="#000" stroke-width="1.5" fill="none"/>
<ellipse cx="510.8" cy="407.3" rx="6.0" ry="2.4" transform="rotate(60 510.8 407.3)" stroke="#000" stroke-width="1.5" fill="none"/>
<ellipse cx="513.4" cy="405.8" rx="6.0" ry="2.4" transform="rotate(60 513.4 405.8)" stroke="#000" stroke-width="1.5" fill="none"/>
<ellipse cx="516.1" cy="404.2" rx="6.0" ry="2.4" transform="rotate(60 516.1 404.2)" stroke="#000" stroke-width="1.5" fill="none"/>
<ellipse cx="518.8" cy="402.7" rx="6.0" ry="2.4" transform="rotate(60 518.8 402.7)" stroke="#000" stroke-width="1.5" fill="none"/>
<path d="M546.2,388.8 L568.2,376.3 A4.4,2.2 60.4 0 0 563.8,368.7 L541.8,381.2 A4.4,2.2 60.4 0 0 546.2,388.8 Z" stroke="#000" stroke-width="1.2" fill="#fff" stroke-linejoin="round" stroke-linecap="round"/>
<path d="M532.4,397.4 L546.9,389.4 A5.0,2.5 61.1 0 0 542.1,380.6 L527.6,388.6 A5.0,2.5 61.1 0 0 532.4,397.4 Z" stroke="#000" stroke-width="1.1" fill="#fff" stroke-linejoin="round" stroke-linecap="round"/>
<ellipse cx="530.0" cy="393.0" rx="5.0" ry="2.5" transform="rotate(61.1134182330893 530.0 393.0)" stroke="#000" stroke-width="1.1" fill="#fff"/>
<line x1="532.9" y1="396.9" x2="547.4" y2="388.9" stroke="#000" stroke-width="1.4" />
<line x1="533.3" y1="395.2" x2="547.8" y2="387.2" stroke="#000" stroke-width="1.4" />
<line x1="532.7" y1="393.0" x2="547.2" y2="385.0" stroke="#000" stroke-width="1.4" />
<line x1="531.5" y1="390.7" x2="546.0" y2="382.7" stroke="#000" stroke-width="1.4" />
<line x1="529.8" y1="389.1" x2="544.3" y2="381.1" stroke="#000" stroke-width="1.4" />
<line x1="528.2" y1="388.5" x2="542.7" y2="380.5" stroke="#000" stroke-width="1.4" />
<ellipse cx="530.0" cy="393.0" rx="5.0" ry="2.5" transform="rotate(60 530.0 393.0)" stroke="#000" stroke-width="1.2" fill="#fff"/>
<ellipse cx="530.0" cy="393.0" rx="2.2" ry="1.2" transform="rotate(60 530.0 393.0)" stroke="#000" stroke-width="1.0" fill="none"/>
<path d="M567.7,377.5 L573.2,374.3 A5.4,2.7 59.8 0 0 567.8,364.9 L562.3,368.1 A5.4,2.7 59.8 0 0 567.7,377.5 Z" stroke="#000" stroke-width="1.2" fill="#fff" stroke-linejoin="round" stroke-linecap="round"/>
<ellipse cx="565.0" cy="372.8" rx="5.4" ry="2.7" transform="rotate(59.8083770390425 565.0 372.8)" stroke="#000" stroke-width="1.2" fill="#fff"/>
<path d="M568,366 L576.5,360.8 C580.5,360 584.5,362.5 584.5,367 C584,371 580.5,374.5 576.5,375.8 L572,376 Z" stroke="#000" stroke-width="1.3" fill="#fff" stroke-linejoin="round" stroke-linecap="round"/>
<line x1="572.5" y1="362.0" x2="572.0" y2="375.0" stroke="#000" stroke-width="1.8" />
<line x1="574.8" y1="361.5" x2="574.2" y2="374.0" stroke="#000" stroke-width="1.8" />
<line x1="577.1" y1="361.0" x2="576.4" y2="373.0" stroke="#000" stroke-width="1.8" />
<line x1="579.4" y1="360.5" x2="578.6" y2="372.0" stroke="#000" stroke-width="1.8" />
<line x1="581.7" y1="360.0" x2="580.8" y2="371.0" stroke="#000" stroke-width="1.8" />
<path d="M609.5,425.5 C607.5,427 607,430.5 608.5,433 C610,435.5 613,436 615.5,434.5 M611,425 C613.5,424.5 616,426 616.5,428.5 C616.8,430 616.2,431.5 615.2,432.2" stroke="#000" stroke-width="1.5" fill="none" stroke-linejoin="round" stroke-linecap="round"/>
<path d="M629.5,442.1 L656.0,427.6 A5.2,2.9 61.3 0 0 651.0,418.4 L624.5,432.9 A5.2,2.9 61.3 0 0 629.5,442.1 Z" stroke="#000" stroke-width="1.1" fill="#fff" stroke-linejoin="round" stroke-linecap="round"/>
<ellipse cx="627.0" cy="437.5" rx="5.2" ry="2.9" transform="rotate(61.31385242626055 627.0 437.5)" stroke="#000" stroke-width="1.1" fill="#fff"/>
<ellipse cx="627.0" cy="437.5" rx="2.6" ry="1.5" transform="rotate(61 627.0 437.5)" stroke="#000" stroke-width="1.0" fill="none"/>
</g>
<g id="parts8">
<path d="M396,424 L396.3,416 C396.6,413.5 397,411.8 397.7,410.5 C399,409.5 400.8,409 402.5,409.1 C404.5,409.3 406.3,409.8 408,410.5 C410,411.8 411.5,413.5 412.8,415.3 C414,417 415,419 415.5,420.8 C416,423.5 416.2,426 416.2,429" stroke="#000" stroke-width="1.1" fill="#fff" stroke-linejoin="round" stroke-linecap="round"/>
<path d="M369.6,437.9 L375,433.8 L383.9,425.6 C382.5,423.5 381.8,421 381.9,418.7 C383.5,416.5 385.5,415 387.4,414.3 L390.8,414.3 C392.5,415 394.2,416 395.6,417.4 L395.6,424.5 L399,423.2 C400.5,424.2 401.5,425.5 402.5,427 C403.5,428.5 404.4,429.8 405.2,431.1 L416.2,429 C419,430 421.5,431 423.1,432.5 C424.5,434 425.3,435.5 425.8,437.3 L425.8,443.5 C426.3,446.5 426.8,449 427.4,451.5 C428.5,454.5 429.5,457 430.6,459.5 L435.4,467.5 C438,469 440,470.5 440.2,472.4 C441,475 441.8,478 441.8,480.4 C440,483 438.5,485 437,486.8 L429,490 C427,491.5 425.5,493.5 424.1,495.6 C422,498 420,500 417.7,501.2 C415,502.5 412.5,503.5 409.7,503.6 C406,503 403,501.5 400.1,499.6 C396.5,497 393.5,494.5 390.5,491.6 C386.5,487.5 383.5,484 380.8,480.4 C378,476 376,471 374.4,465.9 C372.5,460.5 370.5,455 369.6,449.9 Z" stroke="#000" stroke-width="1.2" fill="#fff" stroke-linejoin="round" stroke-linecap="round"/>
<path d="M386,420.1 L395.6,424.9 M405.2,431.1 L416.2,435.9 L419.6,440" stroke="#000" stroke-width="1.0" fill="none" stroke-linejoin="round" stroke-linecap="round"/>
<path d="M369.6,437.9 C378,441 386,446 394,452 C404,456 412,462 418,470 C423,476 428,482 429,490" stroke="#000" stroke-width="0.8" fill="none" stroke-linejoin="round" stroke-linecap="round"/>
<path d="M425.8,443.5 C421,446 418.5,452 419,458 C420,465 424,470 429,472 C433,474 436,477 437,486.8" stroke="#000" stroke-width="0.7" fill="none" stroke-linejoin="round" stroke-linecap="round"/>
<path d="M391,435 L386.5,444 M393,436.5 L388.5,445.5 M386.5,430.5 L392,433" stroke="#000" stroke-width="0.9" fill="none" stroke-linejoin="round" stroke-linecap="round"/>
<ellipse cx="392.7" cy="472.8" rx="13.8" ry="18.5" transform="rotate(-38 392.7 472.8)" stroke="#000" stroke-width="1.3" fill="#fff"/>
<ellipse cx="393.0" cy="472.5" rx="11.5" ry="15.6" transform="rotate(-38 393.0 472.5)" stroke="#000" stroke-width="1.0" fill="#fff"/>
<ellipse cx="396.0" cy="473.5" rx="7.5" ry="10.3" transform="rotate(-38 396.0 473.5)" stroke="#000" stroke-width="1.8" fill="#fff"/>
<ellipse cx="396.5" cy="473.5" rx="5.5" ry="7.8" transform="rotate(-38 396.5 473.5)" stroke="#000" stroke-width="1.0" fill="#fff"/>
<path d="M383,462 L386,458.5 L390,459 M381.5,471 C383,476 386,480.5 390,484" stroke="#000" stroke-width="1.6" fill="none" stroke-linejoin="round" stroke-linecap="round"/>
<path d="M399.5,490.5 L405,487.5 L408,490 L403,494 Z" stroke="#000" stroke-width="1.4" fill="#fff" stroke-linejoin="round" stroke-linecap="round"/>
<ellipse cx="374.0" cy="442.3" rx="1.8" ry="1.8" transform="rotate(0 374.0 442.3)" stroke="#000" stroke-width="1.0" fill="none"/>
<ellipse cx="373.6" cy="450.0" rx="1.8" ry="2.0" transform="rotate(0 373.6 450.0)" stroke="#000" stroke-width="1.0" fill="none"/>
<ellipse cx="408.0" cy="498.0" rx="1.8" ry="1.8" transform="rotate(0 408.0 498.0)" stroke="#000" stroke-width="1.0" fill="none"/>
<ellipse cx="382.6" cy="421.8" rx="2.0" ry="2.2" transform="rotate(0 382.6 421.8)" stroke="#000" stroke-width="1.4" fill="none"/>
<ellipse cx="416.2" cy="441.2" rx="2.5" ry="2.6" transform="rotate(0 416.2 441.2)" stroke="#000" stroke-width="1.5" fill="none"/>
<path d="M396,436 L401,432.5 L405,437 L401.5,441 Z" stroke="#000" stroke-width="1.1" fill="#fff" stroke-linejoin="round" stroke-linecap="round"/>
<line x1="401.0" y1="441.0" x2="404.0" y2="447.0" stroke="#000" stroke-width="1.0" />
<path d="M417,474 L424,471.5 L426.5,475.5 L420.5,479 Z" stroke="#000" stroke-width="1.1" fill="#fff" stroke-linejoin="round" stroke-linecap="round"/>
<ellipse cx="443.4" cy="448.0" rx="16.0" ry="9.4" transform="rotate(60 443.4 448.0)" stroke="#000" stroke-width="1.1" fill="none"/>
<ellipse cx="443.4" cy="448.0" rx="14.8" ry="8.3" transform="rotate(60 443.4 448.0)" stroke="#000" stroke-width="0.7" fill="none"/>
<ellipse cx="324.5" cy="495.2" rx="2.5" ry="2.5" transform="rotate(0 324.5 495.2)" stroke="#000" stroke-width="1.2" fill="#fff"/>
<path d="M327.7,494.9 L345.2,485.7 A1.4,0.7 62.3 0 0 343.8,483.3 L326.3,492.5 A1.4,0.7 62.3 0 0 327.7,494.9 Z" stroke="#000" stroke-width="1.0" fill="#fff" stroke-linejoin="round" stroke-linecap="round"/>
<line x1="335.8" y1="487.9" x2="334.6" y2="491.1" stroke="#000" stroke-width="1.1" />
<line x1="337.8" y1="486.9" x2="336.6" y2="490.1" stroke="#000" stroke-width="1.1" />
<line x1="339.8" y1="485.8" x2="338.6" y2="489.0" stroke="#000" stroke-width="1.1" />
<line x1="341.8" y1="484.8" x2="340.6" y2="488.0" stroke="#000" stroke-width="1.1" />
<line x1="343.8" y1="483.7" x2="342.6" y2="486.9" stroke="#000" stroke-width="1.1" />
<path d="M350,478.5 L352.5,477 L354,480 L351.5,482 Z" stroke="#000" stroke-width="1.3" fill="#fff" stroke-linejoin="round" stroke-linecap="round"/>
<line x1="355.7" y1="476.5" x2="381.5" y2="463.6" stroke="#000" stroke-width="0.8" />
<path d="M506.8,479.1 L523.3,469.7 A1.6,0.8 60.3 0 0 521.7,466.9 L505.2,476.3 A1.6,0.8 60.3 0 0 506.8,479.1 Z" stroke="#000" stroke-width="1.0" fill="#fff" stroke-linejoin="round" stroke-linecap="round"/>
<ellipse cx="506.0" cy="477.7" rx="1.6" ry="0.8" transform="rotate(60.32996618433951 506.0 477.7)" stroke="#000" stroke-width="1.0" fill="#fff"/>
<line x1="507.9" y1="475.2" x2="506.7" y2="478.8" stroke="#000" stroke-width="1.2" />
<line x1="509.8" y1="474.1" x2="508.6" y2="477.7" stroke="#000" stroke-width="1.2" />
<line x1="511.7" y1="473.0" x2="510.5" y2="476.6" stroke="#000" stroke-width="1.2" />
<line x1="513.6" y1="472.0" x2="512.4" y2="475.6" stroke="#000" stroke-width="1.2" />
<line x1="515.5" y1="470.9" x2="514.3" y2="474.5" stroke="#000" stroke-width="1.2" />
<path d="M525.2,470.3 L530.2,467.3 A3.3,1.8 59.0 0 0 526.8,461.7 L521.8,464.7 A3.3,1.8 59.0 0 0 525.2,470.3 Z" stroke="#000" stroke-width="1.1" fill="#fff" stroke-linejoin="round" stroke-linecap="round"/>
<ellipse cx="523.5" cy="467.5" rx="3.3" ry="1.8" transform="rotate(59.03624346792648 523.5 467.5)" stroke="#000" stroke-width="1.1" fill="#fff"/>
<ellipse cx="496.0" cy="482.5" rx="2.8" ry="2.3" transform="rotate(-20 496.0 482.5)" stroke="#000" stroke-width="1.5" fill="#fff"/>
<ellipse cx="496.0" cy="482.5" rx="1.2" ry="1.0" transform="rotate(0 496.0 482.5)" stroke="#000" stroke-width="1.0" fill="none"/>
<path d="M442.6,472.1 L452.1,467.1 L488.0,487.2 L493.7,484.7" stroke="#000" stroke-width="0.9" fill="none" stroke-linejoin="round"/>
<path d="M558.7,486.0 L612.2,456.5 A4.6,2.3 61.1 0 0 607.8,448.5 L554.3,478.0 A4.6,2.3 61.1 0 0 558.7,486.0 Z" stroke="#000" stroke-width="1.1" fill="#fff" stroke-linejoin="round" stroke-linecap="round"/>
<ellipse cx="556.5" cy="482.0" rx="4.6" ry="2.3" transform="rotate(61.127575825959816 556.5 482.0)" stroke="#000" stroke-width="1.1" fill="#fff"/>
<ellipse cx="556.5" cy="482.0" rx="2.4" ry="1.3" transform="rotate(61 556.5 482.0)" stroke="#000" stroke-width="1.0" fill="none"/>
<path d="M609.0,458.9 L620.5,452.4 A5.0,2.5 60.5 0 0 615.5,443.6 L604.0,450.1 A5.0,2.5 60.5 0 0 609.0,458.9 Z" stroke="#000" stroke-width="1.1" fill="#fff" stroke-linejoin="round" stroke-linecap="round"/>
<line x1="609.4" y1="458.4" x2="620.9" y2="451.9" stroke="#000" stroke-width="1.3" />
<line x1="609.8" y1="456.7" x2="621.3" y2="450.2" stroke="#000" stroke-width="1.3" />
<line x1="609.2" y1="454.4" x2="620.7" y2="447.9" stroke="#000" stroke-width="1.3" />
<line x1="608.0" y1="452.2" x2="619.5" y2="445.7" stroke="#000" stroke-width="1.3" />
<line x1="606.3" y1="450.6" x2="617.8" y2="444.1" stroke="#000" stroke-width="1.3" />
<line x1="604.7" y1="450.0" x2="616.2" y2="443.5" stroke="#000" stroke-width="1.3" />
<path d="M587.3,462.8 L587.2,465.4 L589.4,467.9 L588.2,469.2 L589.6,472.4 L587.6,472.1 L588.0,475.0 L585.7,473.3 L584.9,475.1 L582.9,472.3 L581.1,472.6 L580.0,469.5 L577.7,468.2 L577.8,465.6 L575.6,463.1 L576.8,461.8 L575.4,458.6 L577.4,458.9 L577.0,456.0 L579.3,457.7 L580.1,455.9 L582.1,458.7 L583.9,458.4 L585.0,461.5 Z" stroke="#000" stroke-width="1.2" fill="#fff" stroke-linejoin="round"/>
<path d="M587.2,468.0 L612.2,454.3 A4.6,2.3 61.3 0 0 607.8,446.3 L582.8,460.0 A4.6,2.3 61.3 0 0 587.2,468.0 Z" stroke="#000" stroke-width="1.1" fill="#fff" stroke-linejoin="round" stroke-linecap="round"/>
<ellipse cx="582.5" cy="465.5" rx="4.6" ry="2.3" transform="rotate(61 582.5 465.5)" stroke="#000" stroke-width="1.0" fill="#fff"/>
<path d="M530.1,510.4 L544.1,502.9 A11.8,7.3 61.8 0 0 532.9,482.1 L518.9,489.6 A11.8,7.3 61.8 0 0 530.1,510.4 Z" stroke="#000" stroke-width="1.2" fill="#fff" stroke-linejoin="round" stroke-linecap="round"/>
<ellipse cx="524.5" cy="500.0" rx="11.8" ry="7.3" transform="rotate(61.82140989004083 524.5 500.0)" stroke="#000" stroke-width="1.2" fill="#fff"/>
<ellipse cx="524.5" cy="500.0" rx="7.0" ry="5.0" transform="rotate(61 524.5 500.0)" stroke="#000" stroke-width="0.9" fill="none"/>
<path d="M519.5,498.5 L522.0,494.0 L527.0,494.5 L529.0,500.0 L526.0,504.5 L521.5,503.5 Z" stroke="#000" stroke-width="1.3" fill="none" stroke-linejoin="round"/>
<path d="M507,503.5 C503.5,505 502.5,509.5 504.5,513.5 C506.5,517.5 510.5,519 513.5,517.5 M508.5,502.8 C511.5,502 514.5,504.5 515.5,508.5 C516,511 515.5,513 514.5,514" stroke="#000" stroke-width="1.7" fill="none" stroke-linejoin="round" stroke-linecap="round"/>
<path d="M507,503.5 C504.8,505.5 504.5,509.5 506,513 C507.8,516 510.5,517 512.5,516" stroke="#000" stroke-width="0.6" fill="none" stroke-linejoin="round" stroke-linecap="round"/>
<path d="M498.7,516.5 L499.8,520.6 L500.5,524.6 L498.2,526.3 L495.8,527.6 L492.5,525.2 L489.3,522.5 L488.2,518.4 L487.5,514.4 L489.8,512.7 L492.2,511.4 L495.5,513.8 Z" stroke="#000" stroke-width="1.3" fill="#fff" stroke-linejoin="round"/>
<ellipse cx="492.0" cy="521.0" rx="5.4" ry="8.2" transform="rotate(-32 492.0 521.0)" stroke="#000" stroke-width="1.6" fill="#fff"/>
<ellipse cx="492.8" cy="520.4" rx="3.6" ry="5.8" transform="rotate(-32 492.8 520.4)" stroke="#000" stroke-width="2.2" fill="#fff"/>
<ellipse cx="493.2" cy="520.1" rx="2.0" ry="3.6" transform="rotate(-32 493.2 520.1)" stroke="#000" stroke-width="1.0" fill="#fff"/>
<path d="M470.2,545.2 L485.7,537.2 A9.2,5.1 62.7 0 0 477.3,520.8 L461.8,528.8 A9.2,5.1 62.7 0 0 470.2,545.2 Z" stroke="#000" stroke-width="1.2" fill="#fff" stroke-linejoin="round" stroke-linecap="round"/>
<line x1="470.9" y1="544.6" x2="486.4" y2="536.6" stroke="#000" stroke-width="1.8" />
<line x1="471.9" y1="542.9" x2="487.4" y2="534.9" stroke="#000" stroke-width="1.8" />
<line x1="472.2" y1="540.5" x2="487.7" y2="532.5" stroke="#000" stroke-width="1.8" />
<line x1="471.7" y1="537.6" x2="487.2" y2="529.6" stroke="#000" stroke-width="1.8" />
<line x1="470.5" y1="534.7" x2="486.0" y2="526.7" stroke="#000" stroke-width="1.8" />
<line x1="468.8" y1="532.0" x2="484.3" y2="524.0" stroke="#000" stroke-width="1.8" />
<line x1="466.7" y1="530.0" x2="482.2" y2="522.0" stroke="#000" stroke-width="1.8" />
<line x1="464.6" y1="528.8" x2="480.1" y2="520.8" stroke="#000" stroke-width="1.8" />
<line x1="462.6" y1="528.5" x2="478.1" y2="520.5" stroke="#000" stroke-width="1.8" />
<ellipse cx="466.0" cy="537.0" rx="9.2" ry="5.0" transform="rotate(62 466.0 537.0)" stroke="#000" stroke-width="1.2" fill="none"/>
<path d="M458.6,549.2 L469.1,543.6 A6.6,4.0 61.9 0 0 462.9,532.0 L452.4,537.6 A6.6,4.0 61.9 0 0 458.6,549.2 Z" stroke="#000" stroke-width="1.2" fill="#fff" stroke-linejoin="round" stroke-linecap="round"/>
<ellipse cx="455.5" cy="543.4" rx="6.6" ry="4.0" transform="rotate(61.92751306414694 455.5 543.4)" stroke="#000" stroke-width="1.2" fill="#fff"/>
<ellipse cx="455.5" cy="543.4" rx="6.6" ry="4.2" transform="rotate(62 455.5 543.4)" stroke="#000" stroke-width="1.3" fill="#fff"/>
<ellipse cx="455.3" cy="543.6" rx="4.3" ry="2.8" transform="rotate(62 455.3 543.6)" stroke="#000" stroke-width="1.2" fill="#fff"/>
<ellipse cx="440.0" cy="552.4" rx="4.6" ry="5.8" transform="rotate(-22 440.0 552.4)" stroke="#000" stroke-width="1.2" fill="#fff"/>
<ellipse cx="440.0" cy="552.4" rx="1.5" ry="1.7" transform="rotate(0 440.0 552.4)" stroke="#000" stroke-width="1.8" fill="none"/>
<ellipse cx="429.1" cy="558.1" rx="4.2" ry="5.6" transform="rotate(-22 429.1 558.1)" stroke="#000" stroke-width="1.2" fill="#fff"/>
<ellipse cx="429.1" cy="558.1" rx="1.4" ry="1.6" transform="rotate(0 429.1 558.1)" stroke="#000" stroke-width="1.8" fill="none"/>
<path d="M364.3,597.8 L418.8,566.3 A2.6,1.3 60.0 0 0 416.2,561.7 L361.7,593.2 A2.6,1.3 60.0 0 0 364.3,597.8 Z" stroke="#000" stroke-width="1.2" fill="#fff" stroke-linejoin="round" stroke-linecap="round"/>
<line x1="409.0" y1="566.7" x2="407.4" y2="572.3" stroke="#000" stroke-width="1.3" />
<line x1="410.9" y1="565.6" x2="409.3" y2="571.2" stroke="#000" stroke-width="1.3" />
<line x1="412.8" y1="564.5" x2="411.2" y2="570.1" stroke="#000" stroke-width="1.3" />
<line x1="414.7" y1="563.4" x2="413.1" y2="569.0" stroke="#000" stroke-width="1.3" />
<line x1="416.6" y1="562.3" x2="415.0" y2="567.9" stroke="#000" stroke-width="1.3" />
<path d="M352,593.5 L356.5,588.5 L363,588.5 L366.8,594.5 L362.5,601.5 L356,602.5 Z" stroke="#000" stroke-width="1.3" fill="#fff" stroke-linejoin="round" stroke-linecap="round"/>
<line x1="356.5" y1="588.5" x2="359.5" y2="595.0" stroke="#000" stroke-width="0.8" />
<line x1="359.5" y1="595.0" x2="356.0" y2="602.5" stroke="#000" stroke-width="0.8" />
<line x1="359.5" y1="595.0" x2="366.8" y2="594.5" stroke="#000" stroke-width="0.8" />
</g>
<g id="lines" stroke="#000" stroke-width="0.9" fill="none">
<path d="M217.1,390.9 L191.3,404.7 L241.0,434.4"/>
<path d="M245.3,437.0 L254.7,442.2"/>
<path d="M260.8,445.6 L286.1,459.7 L334.2,432.2"/>
<path d="M339.7,429.5 L350.7,424.0"/>
<path d="M360.5,418.2 L420.6,383.2"/>
<path d="M426.1,379.8 L475.6,352.3"/>
<path d="M481.1,348.2 L490.7,342.7"/>
<path d="M496.2,339.2 L546.4,311.8"/>
<path d="M551.0,309.5 L560.2,304.2"/>
<path d="M565.9,300.3 L598.8,280.6 L650.2,310.1"/>
<path d="M656.6,313.3 L664.4,317.5 L614.0,346.1"/>
<path d="M609.4,349.1 L600.3,354.1"/>
<path d="M592.3,358.7 L584.2,363.3"/>
<path d="M468.6,453.5 L485.5,464.0 L624.3,384.9 L606.9,373.9"/>
<path d="M331.2,362.3 L307.2,374.0 L338.8,391.8 L357.3,382.9"/>
<path d="M346.3,385.7 L373.1,402.2 L452.2,358.5 L439.9,351.6"/>
<path d="M288.1,374.0 L324.8,353.8"/>
<path d="M356.1,310.5 L385.0,293.6 L417.0,311.3 L367.4,339.3"/>
<path d="M361.5,343.3 L353.0,347.6"/>
</g>
<g font-family="Liberation Sans, sans-serif" fill="#000">
<text x="642.8" y="77.3" font-size="12.5" letter-spacing="0.00">1</text>
<text x="596.3" y="80.3" font-size="12.5" letter-spacing="2.00">27</text>
<text x="572.3" y="114.7" font-size="12.5" letter-spacing="1.60">25</text>
<text x="664.9" y="153.3" font-size="12.5" letter-spacing="0.00">9</text>
<text x="504.1" y="136.4" font-size="12.5" letter-spacing="1.60">32</text>
<text x="544.2" y="140.3" font-size="12.5" letter-spacing="0.00">3</text>
<text x="608.3" y="185.3" font-size="12.5" letter-spacing="0.00">5</text>
<text x="571.7" y="225.0" font-size="12.5" letter-spacing="1.50">23</text>
<text x="517.2" y="249.3" font-size="12.5" letter-spacing="1.40">22</text>
<text x="419.9" y="180.9" font-size="12.5" letter-spacing="2.00">38</text>
<text x="349.6" y="234.3" font-size="12.5" letter-spacing="2.00">38</text>
<text x="339.9" y="263.9" font-size="12.5" letter-spacing="1.20">20</text>
<text x="326.5" y="268.1" font-size="12.5" letter-spacing="-1.20">10</text>
<text x="276.9" y="257.2" font-size="12.5" letter-spacing="0.60">31</text>
<text x="407.3" y="303.3" font-size="12.5" letter-spacing="1.40">12</text>
<text x="439.3" y="271.3" font-size="12.5" letter-spacing="0.00">4</text>
<text x="490.8" y="273.5" font-size="12.5" letter-spacing="1.50">33</text>
<text x="507.6" y="323.1" font-size="12.5" letter-spacing="2.00">36</text>
<text x="376.3" y="310.9" font-size="12.5" letter-spacing="0.50">31</text>
<text x="228.3" y="312.6" font-size="12.5" letter-spacing="2.00">28</text>
<text x="219.7" y="359.0" font-size="12.5" letter-spacing="0.70">30</text>
<text x="193.0" y="377.9" font-size="12.5" letter-spacing="1.10">11</text>
<text x="297.0" y="417.5" font-size="12.5" letter-spacing="2.00">31</text>
<text x="318.8" y="380.3" font-size="12.5" letter-spacing="1.10">31</text>
<text x="334.6" y="411.3" font-size="12.5" letter-spacing="0.40">31</text>
<text x="476.7" y="338.0" font-size="12.5" letter-spacing="1.70">35</text>
<text x="496.3" y="381.3" font-size="12.5" letter-spacing="1.70">26</text>
<text x="429.9" y="394.8" font-size="12.5" letter-spacing="0.00">13</text>
<text x="418.3" y="407.0" font-size="12.5" letter-spacing="0.80">24</text>
<text x="431.3" y="423.5" font-size="12.5" letter-spacing="-1.20">14</text>
<text x="524.7" y="434.5" font-size="12.5" letter-spacing="2.00">37</text>
<text x="585.1" y="396.3" font-size="12.5" letter-spacing="0.80">34</text>
<text x="577.9" y="442.3" font-size="12.5" letter-spacing="1.40">21</text>
<text x="584.2" y="420.9" font-size="12.5" letter-spacing="-1.00">15</text>
<text x="658.4" y="453.0" font-size="12.5" letter-spacing="1.80">29</text>
<text x="469.7" y="470.3" font-size="12.5" letter-spacing="0.00">8</text>
<text x="543.8" y="456.1" font-size="12.5" letter-spacing="0.00">7</text>
<text x="440.4" y="510.5" font-size="12.5" letter-spacing="0.90">19</text>
<text x="359.0" y="514.5" font-size="12.5" letter-spacing="0.00">2</text>
<text x="607.7" y="497.3" font-size="12.5" letter-spacing="1.50">40</text>
<text x="563.4" y="530.3" font-size="12.5" letter-spacing="2.00">42</text>
<text x="542.8" y="541.6" font-size="12.5" letter-spacing="1.40">16</text>
<text x="528.3" y="551.9" font-size="12.5" letter-spacing="-0.60">41</text>
<text x="502.3" y="567.6" font-size="12.5" letter-spacing="1.70">17</text>
<text x="473.6" y="581.3" font-size="12.5" letter-spacing="1.70">18</text>
<text x="461.0" y="589.3" font-size="12.5" letter-spacing="1.80">39</text>
<text x="416.3" y="606.5" font-size="12.5" letter-spacing="0.00">6</text>
</g>
<g stroke="#000" stroke-width="0.9" fill="none">
<line x1="651" y1="77.6" x2="676" y2="93.5"/>
<line x1="612" y1="80.5" x2="636.7" y2="95"/>
<line x1="583.4" y1="115.2" x2="612.3" y2="128.9"/>
<line x1="665.8" y1="142.9" x2="636.7" y2="127"/>
<line x1="516" y1="137.2" x2="531.3" y2="145.7"/>
<line x1="551.3" y1="140.9" x2="565.7" y2="148.1"/>
<line x1="605.8" y1="175.4" x2="581.8" y2="161.7"/>
<line x1="570.8" y1="214.7" x2="543.9" y2="201.2"/>
<line x1="517" y1="237.3" x2="514.5" y2="214.7"/>
<line x1="517" y1="237.3" x2="501" y2="229"/>
<line x1="432.8" y1="181.4" x2="459.5" y2="195.4"/>
<line x1="364.7" y1="236" x2="381.2" y2="244.3"/>
<line x1="405" y1="293.8" x2="376" y2="280.4"/>
<line x1="441" y1="273.2" x2="441" y2="281.4"/>
<line x1="488.5" y1="273.2" x2="473" y2="281.4"/>
<line x1="499.1" y1="308.5" x2="507.5" y2="312.7"/>
<line x1="291" y1="259.4" x2="302" y2="264.4"/>
<line x1="327.2" y1="268.6" x2="321.3" y2="286.2"/>
<line x1="344.8" y1="266" x2="344.8" y2="275.3"/>
<line x1="375.8" y1="310.6" x2="365.8" y2="314"/>
<line x1="241.9" y1="312.3" x2="257.3" y2="319.2"/>
<line x1="231.5" y1="360.4" x2="246.1" y2="367.3"/>
<line x1="205.8" y1="378.5" x2="218.7" y2="386.2"/>
<line x1="296" y1="410.4" x2="279.7" y2="407"/>
<line x1="331.2" y1="369.8" x2="339.5" y2="366.4"/>
<line x1="345.6" y1="401.4" x2="358.7" y2="393.9"/>
<line x1="458.1" y1="333.4" x2="476.5" y2="333.4"/>
<line x1="495.1" y1="381" x2="483.2" y2="385.7"/>
<line x1="443.5" y1="390.4" x2="460" y2="390.4"/>
<line x1="432.8" y1="402.5" x2="448.4" y2="402.5"/>
<line x1="437.4" y1="424.1" x2="437.4" y2="431.5"/>
<line x1="522.6" y1="424.1" x2="508" y2="416.8"/>
<line x1="584" y1="386.7" x2="570.2" y2="379.4"/>
<line x1="576.7" y1="433.5" x2="558.3" y2="424.3"/>
<line x1="595" y1="420.6" x2="608.7" y2="426.1"/>
<line x1="657.3" y1="444.5" x2="642.6" y2="437.1"/>
<line x1="477.5" y1="471.2" x2="493" y2="479.5"/>
<line x1="543.5" y1="455.8" x2="529" y2="463"/>
<line x1="439.1" y1="501.3" x2="425.2" y2="494.4"/>
<line x1="358.7" y1="503.3" x2="337.9" y2="493.4"/>
<line x1="358.7" y1="503.3" x2="352.8" y2="481.5"/>
<line x1="606.4" y1="489.8" x2="585.8" y2="476.4"/>
<line x1="561" y1="518.7" x2="536.3" y2="506.3"/>
<line x1="541.4" y1="532" x2="512.6" y2="516.6"/>
<line x1="526" y1="541.3" x2="500.2" y2="527"/>
<line x1="500.7" y1="558.1" x2="476.6" y2="544.4"/>
<line x1="473.2" y1="573" x2="444.5" y2="558.1"/>
<line x1="461.7" y1="579.9" x2="433.1" y2="563.8"/>
<line x1="416" y1="597" x2="390.7" y2="583.3"/>
</g>
</svg></body></html>
